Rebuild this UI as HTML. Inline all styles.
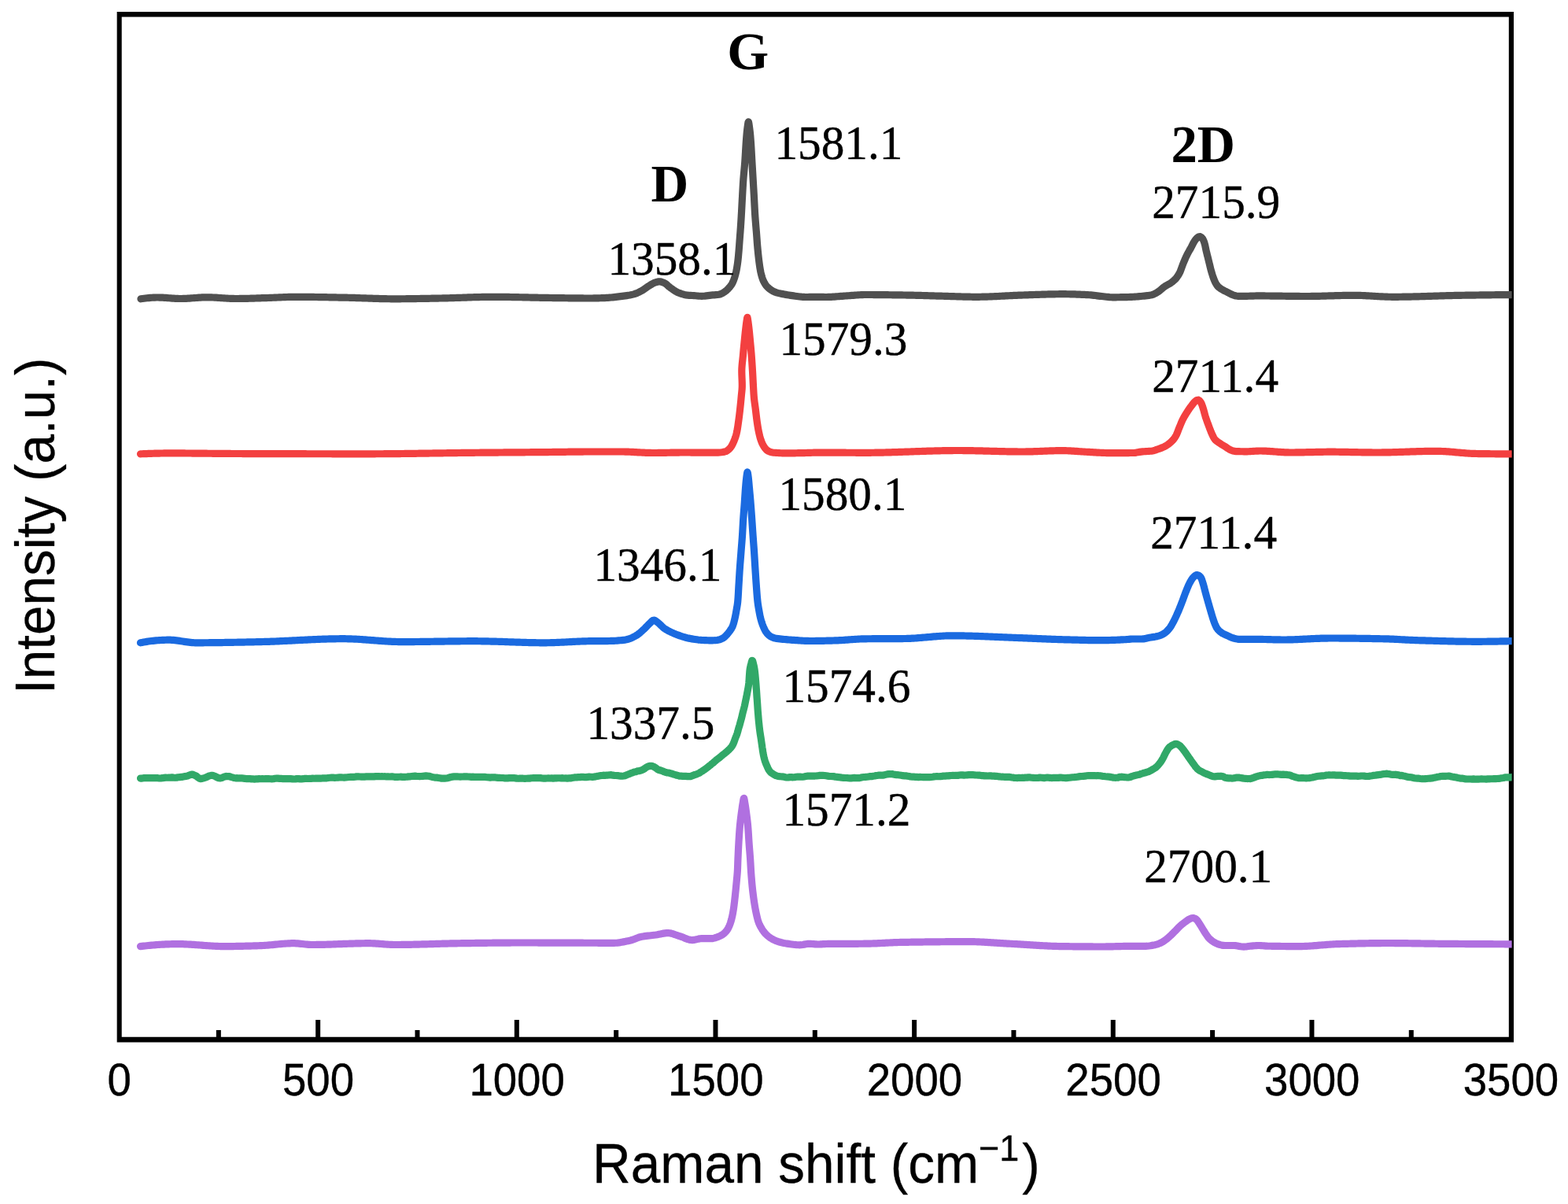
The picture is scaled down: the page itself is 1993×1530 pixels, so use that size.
<!DOCTYPE html>
<html lang="en"><head><meta charset="utf-8"><title>Raman spectra</title>
<style>html,body{margin:0;padding:0;background:#fff;}body{width:1993px;height:1530px;overflow:hidden;}svg{display:block;}.tk{font-family:"Liberation Sans",sans-serif;font-size:56px;text-anchor:middle;fill:#000;stroke:#000;stroke-width:0.4px;stroke-linejoin:round;}.ax{font-family:"Liberation Sans",sans-serif;font-size:67.5px;text-anchor:middle;fill:#000;stroke:#000;stroke-width:0.3px;stroke-linejoin:round;}.pk{font-family:"Liberation Serif",serif;font-size:59.3px;fill:#000;stroke:#000;stroke-width:0.4px;stroke-linejoin:round;}.al{text-anchor:start;}.bd{font-family:"Liberation Serif",serif;font-weight:bold;font-size:68px;fill:#000;}</style></head><body>
<svg xmlns="http://www.w3.org/2000/svg" width="1993" height="1530" viewBox="0 0 1993 1530">
<rect x="0" y="0" width="1993" height="1530" fill="#ffffff"/>
<path fill="#000" fill-rule="evenodd" d="M148.65 15.00H1924.00V1324.50H148.65Z M154.70 21.50H1917.80V1317.85H154.70Z"/>
<path d="M277.83 1321.00 V1308.90 M404.16 1321.00 V1296.10 M530.48 1321.00 V1308.90 M656.81 1321.00 V1296.10 M783.14 1321.00 V1308.90 M909.47 1321.00 V1296.10 M1035.79 1321.00 V1308.90 M1162.12 1321.00 V1296.10 M1288.45 1321.00 V1308.90 M1414.78 1321.00 V1296.10 M1541.10 1321.00 V1308.90 M1667.43 1321.00 V1296.10 M1793.76 1321.00 V1308.90" fill="none" stroke="#000" stroke-width="6.00"/>
<defs><clipPath id="plotclip"><rect x="152.0" y="19.0" width="1769.6" height="1301.5"/></clipPath></defs>
<g clip-path="url(#plotclip)" fill="none" stroke-width="9.20" stroke-linecap="round" stroke-linejoin="round">
<path stroke="#505050" d="M179.00 379.80L180.99 379.52L182.98 379.26L184.97 379.01L186.97 378.78L188.96 378.58L190.95 378.40L192.95 378.25L194.94 378.13L196.93 378.05L198.93 378.01L200.92 378.00L202.92 378.04L204.92 378.11L206.91 378.20L208.91 378.32L210.91 378.45L212.91 378.59L214.91 378.74L216.90 378.89L218.90 379.04L220.90 379.17L222.90 379.29L224.90 379.38L226.90 379.46L228.90 379.49L230.89 379.50L232.89 379.46L234.89 379.40L236.89 379.31L238.88 379.20L240.88 379.07L242.88 378.93L244.88 378.77L246.87 378.62L248.87 378.47L250.87 378.32L252.87 378.18L254.87 378.06L256.86 377.95L258.86 377.87L260.86 377.82L262.86 377.80L264.85 377.81L266.85 377.85L268.85 377.91L270.85 378.00L272.85 378.10L274.84 378.21L276.84 378.34L278.84 378.47L280.84 378.60L282.84 378.74L284.84 378.88L286.83 379.01L288.83 379.13L290.83 379.24L292.83 379.33L294.83 379.41L296.83 379.46L298.82 379.49L300.82 379.50L302.82 379.49L304.82 379.47L306.82 379.45L308.82 379.42L310.82 379.38L312.82 379.34L314.82 379.29L316.82 379.24L318.82 379.18L320.82 379.12L322.82 379.06L324.82 378.99L326.82 378.92L328.82 378.86L330.82 378.79L332.82 378.72L334.82 378.66L336.82 378.60L338.82 378.53L340.82 378.48L342.82 378.41L344.82 378.34L346.82 378.26L348.82 378.18L350.82 378.09L352.81 378.00L354.81 377.91L356.81 377.82L358.81 377.74L360.81 377.65L362.81 377.58L364.81 377.51L366.81 377.44L368.81 377.39L370.81 377.35L372.81 377.32L374.81 377.30L376.81 377.30L378.81 377.30L380.80 377.31L382.80 377.32L384.80 377.33L386.80 377.34L388.80 377.36L390.80 377.37L392.80 377.39L394.81 377.42L396.81 377.44L398.81 377.47L400.81 377.49L402.81 377.52L404.81 377.55L406.81 377.58L408.81 377.62L410.81 377.65L412.81 377.69L414.81 377.72L416.81 377.76L418.81 377.80L420.81 377.83L422.81 377.87L424.81 377.91L426.81 377.95L428.81 377.99L430.81 378.03L432.81 378.06L434.81 378.10L436.81 378.14L438.81 378.18L440.81 378.22L442.81 378.26L444.81 378.30L446.81 378.35L448.81 378.41L450.81 378.47L452.81 378.53L454.81 378.59L456.81 378.66L458.81 378.73L460.81 378.80L462.81 378.87L464.81 378.94L466.81 379.01L468.81 379.08L470.81 379.15L472.80 379.22L474.80 379.29L476.80 379.35L478.80 379.41L480.80 379.47L482.80 379.53L484.80 379.58L486.80 379.63L488.80 379.67L490.80 379.71L492.80 379.74L494.80 379.76L496.80 379.78L498.80 379.80L500.80 379.80L502.80 379.80L504.80 379.79L506.80 379.79L508.80 379.78L510.80 379.76L512.80 379.75L514.80 379.73L516.80 379.71L518.80 379.69L520.80 379.67L522.80 379.64L524.80 379.62L526.80 379.59L528.80 379.56L530.80 379.52L532.80 379.49L534.80 379.46L536.80 379.42L538.80 379.39L540.80 379.35L542.80 379.32L544.80 379.28L546.80 379.24L548.81 379.20L550.81 379.17L552.81 379.13L554.81 379.09L556.81 379.06L558.81 379.02L560.81 378.99L562.81 378.95L564.81 378.90L566.81 378.85L568.80 378.80L570.80 378.75L572.80 378.69L574.80 378.63L576.80 378.57L578.80 378.50L580.80 378.44L582.80 378.37L584.80 378.30L586.80 378.23L588.80 378.16L590.80 378.09L592.80 378.03L594.80 377.96L596.80 377.89L598.80 377.83L600.80 377.77L602.80 377.71L604.80 377.65L606.80 377.60L608.80 377.54L610.80 377.50L612.80 377.46L614.80 377.42L616.80 377.38L618.80 377.35L620.80 377.33L622.80 377.31L624.80 377.30L626.80 377.30L628.80 377.30L630.80 377.31L632.80 377.32L634.80 377.33L636.80 377.35L638.80 377.36L640.80 377.39L642.80 377.41L644.80 377.44L646.80 377.47L648.80 377.50L650.80 377.54L652.80 377.57L654.80 377.61L656.80 377.65L658.80 377.69L660.80 377.73L662.80 377.77L664.80 377.82L666.80 377.86L668.80 377.90L670.80 377.95L672.80 377.99L674.80 378.04L676.80 378.08L678.80 378.12L680.80 378.17L682.80 378.21L684.80 378.25L686.80 378.29L688.80 378.33L690.80 378.36L692.80 378.40L694.80 378.43L696.80 378.46L698.80 378.48L700.80 378.51L702.80 378.54L704.80 378.56L706.80 378.59L708.80 378.61L710.80 378.64L712.80 378.67L714.80 378.70L716.80 378.72L718.80 378.75L720.80 378.77L722.80 378.80L724.80 378.82L726.80 378.85L728.80 378.87L730.80 378.89L732.80 378.91L734.80 378.93L736.80 378.95L738.80 378.96L740.81 378.97L742.81 378.98L744.81 378.99L746.81 379.00L748.81 379.00L750.81 379.00L752.81 378.99L754.81 378.96L756.81 378.93L758.81 378.88L760.81 378.83L762.81 378.77L764.81 378.70L766.81 378.62L768.81 378.55L770.80 378.46L772.80 378.35L774.79 378.21L776.78 378.04L778.78 377.85L780.77 377.63L782.76 377.40L784.75 377.16L786.73 376.91L788.72 376.66L790.70 376.41L792.69 376.15L794.69 375.89L796.68 375.60L798.67 375.28L800.64 374.94L802.60 374.55L804.53 374.12L806.43 373.60L808.31 372.94L810.18 372.16L812.01 371.31L813.81 370.41L815.57 369.49L817.28 368.47L818.94 367.36L820.57 366.19L822.21 365.02L823.88 363.90L825.58 362.85L827.30 361.78L829.04 360.73L830.81 359.78L832.63 359.02L834.53 358.43L836.50 357.94L838.47 357.82L840.45 358.15L842.41 358.78L844.24 359.50L845.90 360.45L847.47 361.69L848.99 363.07L850.53 364.45L852.12 365.69L853.77 366.85L855.42 368.03L857.10 369.17L858.81 370.23L860.56 371.17L862.35 371.94L864.20 372.64L866.09 373.31L868.03 373.94L869.99 374.48L871.96 374.91L873.94 375.21L875.92 375.35L877.92 375.42L879.92 375.50L881.92 375.62L883.92 375.79L885.91 375.96L887.91 376.13L889.91 376.25L891.90 376.30L893.89 376.24L895.88 376.09L897.87 375.86L899.86 375.60L901.85 375.34L903.84 375.12L905.85 374.96L907.87 374.83L909.88 374.70L911.87 374.53L913.81 374.28L915.71 373.76L917.57 372.92L919.36 371.94L921.03 370.91L922.63 369.70L924.16 368.35L925.58 366.93L926.92 365.47L928.21 363.91L929.40 362.27L930.45 360.58L931.34 358.82L932.14 356.99L932.87 355.10L933.52 353.19L934.11 351.29L934.65 349.37L935.15 347.42L935.61 345.47L936.02 343.51L936.40 341.55L936.74 339.58L937.06 337.60L937.35 335.62L937.62 333.64L937.87 331.65L938.09 329.67L938.30 327.68L938.50 325.69L938.68 323.69L938.86 321.70L939.03 319.71L939.20 317.71L939.35 315.72L939.50 313.73L939.65 311.73L939.79 309.74L939.93 307.74L940.08 305.74L940.23 303.75L940.38 301.75L940.53 299.76L940.68 297.77L940.84 295.77L940.99 293.78L941.13 291.78L941.28 289.79L941.41 287.79L941.55 285.79L941.68 283.80L941.80 281.80L941.93 279.81L942.05 277.81L942.17 275.81L942.28 273.82L942.40 271.82L942.51 269.82L942.62 267.82L942.72 265.83L942.83 263.83L942.93 261.83L943.03 259.83L943.13 257.83L943.24 255.84L943.34 253.84L943.45 251.84L943.56 249.84L943.67 247.85L943.77 245.85L943.88 243.85L943.99 241.85L944.10 239.86L944.21 237.86L944.33 235.86L944.45 233.87L944.57 231.87L944.71 229.87L944.85 227.88L945.01 225.89L945.18 223.89L945.36 221.90L945.54 219.91L945.73 217.92L945.91 215.92L946.10 213.93L946.27 211.94L946.44 209.95L946.60 207.95L946.74 205.96L946.88 203.96L947.01 201.96L947.13 199.97L947.25 197.97L947.37 195.97L947.49 193.98L947.60 191.98L947.72 189.98L947.84 187.98L947.96 185.99L948.08 183.99L948.21 181.99L948.34 180.00L948.49 178.00L948.64 176.01L948.80 174.02L948.97 172.02L949.15 170.03L949.34 168.04L949.55 166.05L949.77 164.06L950.02 162.07L950.29 160.09L950.62 157.70L951.01 155.39L951.40 154.79L951.79 156.46L952.16 159.01L952.46 161.11L952.73 163.09L952.98 165.07L953.22 167.06L953.44 169.05L953.63 171.04L953.82 173.04L953.98 175.03L954.14 177.02L954.29 179.01L954.43 181.01L954.57 183.00L954.70 185.00L954.82 187.00L954.94 188.99L955.05 190.99L955.16 192.99L955.27 194.99L955.38 196.99L955.49 198.98L955.60 200.98L955.71 202.98L955.83 204.98L955.94 206.97L956.06 208.97L956.18 210.97L956.30 212.96L956.42 214.96L956.54 216.96L956.66 218.96L956.77 220.95L956.89 222.95L957.01 224.95L957.12 226.94L957.24 228.94L957.35 230.94L957.47 232.93L957.59 234.93L957.70 236.93L957.82 238.93L957.94 240.92L958.05 242.92L958.16 244.92L958.28 246.91L958.39 248.91L958.50 250.91L958.61 252.91L958.71 254.90L958.81 256.90L958.91 258.90L959.01 260.90L959.11 262.90L959.21 264.89L959.32 266.89L959.43 268.89L959.54 270.88L959.67 272.88L959.80 274.88L959.95 276.87L960.10 278.87L960.25 280.86L960.41 282.86L960.57 284.85L960.73 286.84L960.90 288.84L961.06 290.83L961.23 292.82L961.40 294.82L961.56 296.81L961.71 298.81L961.85 300.80L961.99 302.80L962.14 304.79L962.28 306.79L962.43 308.78L962.59 310.78L962.76 312.77L962.93 314.76L963.11 316.75L963.30 318.75L963.50 320.74L963.70 322.73L963.91 324.72L964.13 326.70L964.36 328.69L964.59 330.68L964.83 332.67L965.09 334.65L965.36 336.64L965.64 338.62L965.95 340.59L966.29 342.56L966.66 344.53L967.07 346.50L967.53 348.46L968.03 350.41L968.59 352.32L969.20 354.20L969.93 356.07L970.77 357.92L971.72 359.71L972.76 361.40L973.91 362.98L975.25 364.49L976.73 365.90L978.28 367.18L979.88 368.33L981.58 369.41L983.37 370.39L985.20 371.21L987.06 371.84L988.97 372.36L990.92 372.82L992.90 373.23L994.89 373.61L996.86 373.99L998.82 374.36L1000.79 374.72L1002.76 375.05L1004.74 375.37L1006.72 375.66L1008.70 375.93L1010.68 376.19L1012.67 376.46L1014.66 376.72L1016.65 376.97L1018.64 377.19L1020.64 377.35L1022.63 377.46L1024.62 377.50L1026.62 377.49L1028.62 377.47L1030.62 377.43L1032.62 377.39L1034.62 377.36L1036.63 377.32L1038.63 377.30L1040.63 377.30L1042.63 377.33L1044.63 377.39L1046.63 377.45L1048.63 377.49L1050.63 377.50L1052.62 377.47L1054.62 377.41L1056.62 377.32L1058.62 377.21L1060.61 377.07L1062.61 376.93L1064.61 376.78L1066.60 376.62L1068.60 376.46L1070.59 376.30L1072.59 376.16L1074.59 376.03L1076.58 375.90L1078.58 375.76L1080.58 375.61L1082.57 375.45L1084.57 375.29L1086.56 375.13L1088.56 374.98L1090.56 374.85L1092.55 374.73L1094.55 374.63L1096.55 374.55L1098.55 374.51L1100.54 374.50L1102.54 374.50L1104.54 374.51L1106.54 374.51L1108.54 374.52L1110.54 374.53L1112.54 374.54L1114.54 374.56L1116.54 374.58L1118.54 374.59L1120.54 374.61L1122.54 374.63L1124.54 374.65L1126.54 374.68L1128.54 374.70L1130.55 374.73L1132.55 374.75L1134.55 374.78L1136.55 374.81L1138.55 374.84L1140.55 374.86L1142.55 374.89L1144.55 374.92L1146.55 374.95L1148.55 374.98L1150.55 375.01L1152.55 375.04L1154.55 375.08L1156.55 375.11L1158.55 375.16L1160.55 375.20L1162.55 375.25L1164.55 375.30L1166.55 375.35L1168.55 375.40L1170.55 375.46L1172.55 375.51L1174.55 375.57L1176.55 375.63L1178.55 375.69L1180.55 375.75L1182.55 375.81L1184.55 375.87L1186.55 375.93L1188.55 375.98L1190.55 376.04L1192.55 376.10L1194.54 376.16L1196.54 376.21L1198.54 376.26L1200.54 376.31L1202.54 376.37L1204.54 376.42L1206.54 376.48L1208.54 376.55L1210.54 376.61L1212.54 376.68L1214.54 376.74L1216.54 376.80L1218.54 376.87L1220.54 376.93L1222.54 376.99L1224.54 377.05L1226.54 377.10L1228.54 377.15L1230.54 377.19L1232.54 377.22L1234.54 377.25L1236.54 377.28L1238.54 377.29L1240.54 377.30L1242.54 377.30L1244.54 377.28L1246.54 377.26L1248.54 377.22L1250.53 377.18L1252.53 377.13L1254.53 377.07L1256.53 377.00L1258.53 376.92L1260.53 376.84L1262.53 376.76L1264.53 376.67L1266.52 376.57L1268.52 376.48L1270.52 376.38L1272.52 376.27L1274.52 376.17L1276.52 376.06L1278.52 375.96L1280.52 375.85L1282.51 375.75L1284.51 375.65L1286.51 375.55L1288.51 375.46L1290.51 375.36L1292.51 375.28L1294.51 375.19L1296.51 375.12L1298.51 375.05L1300.50 374.98L1302.50 374.92L1304.50 374.86L1306.50 374.79L1308.50 374.72L1310.50 374.65L1312.50 374.59L1314.50 374.52L1316.50 374.45L1318.50 374.38L1320.50 374.31L1322.50 374.25L1324.50 374.19L1326.50 374.12L1328.50 374.07L1330.50 374.01L1332.50 373.96L1334.50 373.91L1336.50 373.87L1338.50 373.83L1340.50 373.79L1342.50 373.76L1344.50 373.74L1346.50 373.72L1348.50 373.71L1350.50 373.70L1352.50 373.70L1354.50 373.72L1356.50 373.74L1358.50 373.77L1360.50 373.81L1362.50 373.85L1364.50 373.91L1366.50 373.97L1368.51 374.04L1370.51 374.11L1372.51 374.19L1374.51 374.28L1376.50 374.37L1378.50 374.46L1380.50 374.56L1382.49 374.67L1384.49 374.77L1386.48 374.90L1388.47 375.08L1390.46 375.31L1392.44 375.56L1394.43 375.82L1396.41 376.09L1398.40 376.33L1400.39 376.54L1402.38 376.75L1404.37 376.98L1406.36 377.21L1408.36 377.42L1410.35 377.60L1412.34 377.73L1414.34 377.80L1416.34 377.80L1418.34 377.79L1420.33 377.77L1422.34 377.75L1424.34 377.72L1426.34 377.69L1428.34 377.65L1430.34 377.61L1432.34 377.56L1434.34 377.52L1436.34 377.46L1438.34 377.38L1440.33 377.28L1442.33 377.15L1444.33 377.01L1446.33 376.85L1448.32 376.68L1450.31 376.49L1452.31 376.29L1454.30 376.09L1456.28 375.88L1458.28 375.66L1460.29 375.40L1462.27 375.08L1464.19 374.68L1466.05 374.07L1467.88 373.21L1469.66 372.21L1471.39 371.15L1473.04 370.07L1474.62 368.85L1476.14 367.53L1477.66 366.20L1479.22 364.94L1480.86 363.80L1482.58 362.79L1484.35 361.82L1486.10 360.84L1487.79 359.79L1489.40 358.62L1490.99 357.36L1492.52 356.03L1493.94 354.63L1495.22 353.15L1496.43 351.56L1497.56 349.87L1498.59 348.13L1499.51 346.37L1500.32 344.57L1501.04 342.71L1501.72 340.81L1502.38 338.91L1503.08 337.02L1503.82 335.16L1504.57 333.31L1505.34 331.46L1506.12 329.61L1506.92 327.78L1507.74 325.96L1508.61 324.16L1509.52 322.39L1510.48 320.63L1511.45 318.88L1512.44 317.13L1513.41 315.39L1514.37 313.62L1515.27 311.83L1516.18 310.02L1517.12 308.25L1518.13 306.54L1519.27 304.92L1520.56 303.35L1522.02 302.01L1523.75 300.77L1525.53 300.69L1527.31 301.91L1528.56 303.34L1529.54 305.11L1530.33 307.05L1530.96 308.94L1531.47 310.85L1531.91 312.81L1532.31 314.78L1532.71 316.76L1533.15 318.72L1533.62 320.66L1534.10 322.60L1534.58 324.54L1535.07 326.48L1535.56 328.42L1536.04 330.37L1536.52 332.31L1536.99 334.25L1537.46 336.20L1537.93 338.15L1538.41 340.09L1538.90 342.02L1539.43 343.95L1539.98 345.88L1540.54 347.81L1541.13 349.73L1541.75 351.64L1542.42 353.52L1543.14 355.37L1543.94 357.21L1544.81 359.08L1545.78 360.88L1546.85 362.55L1548.06 364.01L1549.52 365.32L1551.17 366.52L1552.91 367.63L1554.62 368.66L1556.39 369.59L1558.20 370.45L1560.02 371.31L1561.80 372.24L1563.56 373.22L1565.35 374.12L1567.19 374.83L1569.10 375.48L1571.06 376.03L1573.03 376.30L1575.01 376.30L1577.00 376.30L1579.01 376.30L1581.02 376.30L1583.02 376.30L1585.03 376.30L1587.03 376.27L1589.03 376.22L1591.03 376.15L1593.03 376.07L1595.03 376.00L1597.03 375.94L1599.03 375.90L1601.03 375.90L1603.03 375.91L1605.03 375.93L1607.03 375.95L1609.03 375.98L1611.03 376.00L1613.03 376.02L1615.03 376.04L1617.03 376.06L1619.03 376.09L1621.03 376.11L1623.03 376.14L1625.03 376.16L1627.03 376.19L1629.03 376.22L1631.03 376.24L1633.03 376.27L1635.03 376.30L1637.03 376.32L1639.03 376.35L1641.03 376.37L1643.03 376.39L1645.03 376.41L1647.03 376.43L1649.03 376.45L1651.03 376.46L1653.03 376.48L1655.03 376.49L1657.03 376.49L1659.03 376.50L1661.03 376.50L1663.03 376.50L1665.03 376.48L1667.03 376.47L1669.03 376.44L1671.03 376.41L1673.03 376.37L1675.03 376.33L1677.03 376.29L1679.03 376.24L1681.03 376.19L1683.03 376.13L1685.04 376.08L1687.04 376.02L1689.04 375.96L1691.04 375.90L1693.04 375.84L1695.04 375.78L1697.04 375.72L1699.04 375.66L1701.04 375.61L1703.04 375.56L1705.04 375.51L1707.03 375.46L1709.03 375.42L1711.03 375.39L1713.03 375.36L1715.03 375.33L1717.03 375.32L1719.03 375.30L1721.03 375.30L1723.03 375.31L1725.03 375.34L1727.03 375.38L1729.03 375.44L1731.03 375.51L1733.03 375.60L1735.02 375.69L1737.02 375.79L1739.02 375.90L1741.02 376.01L1743.02 376.13L1745.02 376.25L1747.02 376.37L1749.01 376.49L1751.01 376.61L1753.01 376.72L1755.01 376.83L1757.01 376.93L1759.01 377.02L1761.01 377.10L1763.00 377.17L1765.00 377.23L1767.00 377.27L1769.00 377.29L1771.00 377.30L1773.00 377.30L1775.00 377.29L1777.00 377.28L1779.00 377.26L1781.00 377.24L1783.00 377.21L1785.00 377.18L1787.00 377.15L1788.99 377.11L1790.99 377.07L1792.99 377.03L1794.99 376.99L1796.99 376.94L1798.99 376.89L1800.99 376.84L1802.99 376.78L1804.99 376.73L1806.99 376.67L1808.99 376.61L1810.99 376.55L1812.99 376.49L1814.99 376.43L1816.99 376.37L1818.99 376.30L1820.99 376.24L1822.99 376.18L1824.99 376.12L1826.99 376.05L1828.99 375.99L1830.99 375.93L1832.99 375.87L1834.99 375.81L1836.99 375.75L1838.99 375.70L1840.99 375.64L1842.99 375.59L1844.99 375.54L1846.99 375.49L1848.99 375.45L1850.99 375.41L1852.99 375.37L1854.99 375.33L1856.99 375.30L1858.99 375.27L1860.99 375.24L1862.99 375.21L1864.99 375.18L1866.99 375.15L1868.99 375.12L1870.99 375.09L1872.99 375.06L1874.99 375.04L1876.99 375.01L1878.99 374.98L1880.99 374.95L1882.99 374.93L1884.99 374.90L1886.99 374.88L1888.99 374.85L1890.99 374.83L1892.99 374.80L1895.00 374.78L1897.00 374.76L1899.00 374.73L1901.00 374.71L1903.00 374.69L1905.00 374.67L1907.00 374.65L1909.00 374.63L1911.00 374.61L1913.00 374.59L1915.00 374.58L1917.00 374.56L1919.00 374.54L1921.00 374.53L1923.00 374.51L1925.00 374.50"/>
<path stroke="#f34040" d="M178.50 576.80L180.50 576.73L182.50 576.66L184.50 576.60L186.50 576.53L188.50 576.46L190.50 576.40L192.50 576.33L194.50 576.27L196.50 576.21L198.50 576.16L200.50 576.11L202.50 576.06L204.50 576.02L206.50 575.98L208.50 575.95L210.50 575.93L212.50 575.91L214.50 575.90L216.50 575.90L218.50 575.90L220.50 575.90L222.50 575.91L224.50 575.91L226.50 575.92L228.51 575.93L230.51 575.94L232.51 575.95L234.51 575.96L236.51 575.98L238.51 575.99L240.51 576.01L242.51 576.02L244.51 576.04L246.51 576.06L248.51 576.08L250.51 576.09L252.51 576.11L254.51 576.13L256.51 576.15L258.51 576.17L260.52 576.19L262.52 576.21L264.52 576.23L266.52 576.25L268.52 576.27L270.52 576.29L272.52 576.31L274.52 576.33L276.52 576.35L278.52 576.37L280.52 576.38L282.52 576.40L284.52 576.41L286.53 576.43L288.53 576.44L290.53 576.46L292.53 576.47L294.53 576.48L296.53 576.49L298.53 576.50L300.53 576.50L302.53 576.51L304.53 576.51L306.53 576.52L308.53 576.53L310.53 576.53L312.53 576.54L314.54 576.54L316.54 576.55L318.54 576.56L320.54 576.56L322.54 576.57L324.54 576.57L326.54 576.58L328.54 576.58L330.54 576.59L332.54 576.59L334.54 576.60L336.54 576.61L338.54 576.61L340.54 576.62L342.55 576.62L344.55 576.63L346.55 576.63L348.55 576.64L350.55 576.64L352.55 576.65L354.55 576.65L356.55 576.66L358.55 576.66L360.55 576.67L362.55 576.67L364.55 576.68L366.55 576.68L368.55 576.68L370.56 576.69L372.56 576.69L374.56 576.70L376.56 576.70L378.56 576.71L380.56 576.71L382.56 576.71L384.56 576.72L386.56 576.72L388.56 576.72L390.56 576.73L392.56 576.73L394.56 576.74L396.56 576.74L398.57 576.74L400.57 576.75L402.57 576.75L404.57 576.75L406.57 576.75L408.57 576.76L410.57 576.76L412.57 576.76L414.57 576.77L416.57 576.77L418.57 576.77L420.57 576.77L422.57 576.78L424.57 576.78L426.58 576.78L428.58 576.78L430.58 576.78L432.58 576.78L434.58 576.79L436.58 576.79L438.58 576.79L440.58 576.79L442.58 576.79L444.58 576.79L446.58 576.79L448.58 576.80L450.58 576.80L452.58 576.80L454.59 576.80L456.59 576.80L458.59 576.80L460.59 576.80L462.59 576.80L464.59 576.80L466.59 576.80L468.59 576.80L470.59 576.80L472.59 576.79L474.59 576.79L476.59 576.78L478.59 576.77L480.59 576.76L482.59 576.75L484.59 576.74L486.60 576.73L488.60 576.72L490.60 576.70L492.60 576.69L494.60 576.67L496.60 576.66L498.60 576.64L500.60 576.62L502.60 576.60L504.60 576.58L506.60 576.56L508.60 576.53L510.60 576.51L512.60 576.49L514.60 576.46L516.60 576.44L518.60 576.41L520.61 576.39L522.61 576.36L524.61 576.34L526.61 576.31L528.61 576.28L530.61 576.25L532.61 576.22L534.61 576.20L536.61 576.17L538.61 576.14L540.61 576.11L542.61 576.08L544.61 576.05L546.61 576.02L548.61 575.99L550.61 575.96L552.61 575.93L554.61 575.90L556.62 575.87L558.62 575.84L560.62 575.81L562.62 575.78L564.62 575.76L566.62 575.73L568.62 575.70L570.62 575.67L572.62 575.64L574.62 575.62L576.62 575.59L578.62 575.56L580.62 575.54L582.62 575.51L584.62 575.49L586.62 575.46L588.62 575.44L590.63 575.41L592.63 575.39L594.63 575.37L596.63 575.35L598.63 575.33L600.63 575.31L602.63 575.29L604.63 575.27L606.63 575.25L608.63 575.24L610.63 575.22L612.63 575.20L614.63 575.18L616.63 575.17L618.63 575.15L620.63 575.13L622.64 575.12L624.64 575.10L626.64 575.08L628.64 575.07L630.64 575.05L632.64 575.04L634.64 575.02L636.64 575.01L638.64 574.99L640.64 574.97L642.64 574.96L644.64 574.94L646.64 574.93L648.64 574.91L650.64 574.90L652.65 574.88L654.65 574.87L656.65 574.85L658.65 574.84L660.65 574.82L662.65 574.81L664.65 574.79L666.65 574.78L668.65 574.76L670.65 574.75L672.65 574.73L674.65 574.71L676.65 574.70L678.65 574.68L680.65 574.67L682.65 574.65L684.66 574.63L686.66 574.62L688.66 574.60L690.66 574.58L692.66 574.57L694.66 574.55L696.66 574.53L698.66 574.51L700.66 574.49L702.66 574.47L704.66 574.45L706.66 574.43L708.66 574.41L710.66 574.38L712.66 574.36L714.66 574.33L716.67 574.30L718.67 574.28L720.67 574.25L722.67 574.22L724.67 574.20L726.67 574.17L728.67 574.15L730.67 574.12L732.67 574.10L734.67 574.08L736.67 574.06L738.67 574.05L740.67 574.03L742.67 574.02L744.67 574.01L746.67 574.00L748.68 574.00L750.68 574.00L752.68 574.00L754.68 574.00L756.68 574.00L758.68 574.00L760.68 574.00L762.68 574.00L764.68 574.00L766.68 574.00L768.68 574.00L770.68 574.00L772.69 574.00L774.69 574.00L776.69 574.00L778.69 574.00L780.69 574.00L782.69 574.00L784.69 574.00L786.69 574.00L788.69 574.00L790.69 574.00L792.69 574.02L794.69 574.06L796.69 574.11L798.69 574.18L800.69 574.26L802.69 574.36L804.69 574.46L806.68 574.57L808.68 574.68L810.68 574.79L812.68 574.90L814.68 575.01L816.68 575.11L818.68 575.21L820.68 575.29L822.68 575.37L824.68 575.43L826.68 575.47L828.68 575.50L830.68 575.50L832.68 575.49L834.68 575.48L836.68 575.46L838.68 575.44L840.68 575.41L842.68 575.38L844.68 575.35L846.68 575.31L848.68 575.27L850.68 575.24L852.68 575.20L854.68 575.16L856.68 575.13L858.68 575.10L860.68 575.07L862.68 575.04L864.69 575.02L866.69 575.01L868.69 575.00L870.69 575.00L872.69 575.00L874.69 575.01L876.69 575.02L878.69 575.03L880.69 575.04L882.69 575.05L884.69 575.06L886.69 575.07L888.69 575.08L890.69 575.09L892.69 575.10L894.70 575.10L896.70 575.10L898.70 575.10L900.70 575.10L902.71 575.10L904.71 575.10L906.71 575.10L908.71 575.10L910.71 575.10L912.70 575.09L914.74 574.99L916.79 574.78L918.81 574.49L920.73 574.12L922.53 573.64L924.29 572.69L925.96 571.39L927.46 569.93L928.71 568.48L929.81 566.87L930.81 565.10L931.72 563.25L932.55 561.38L933.31 559.54L934.04 557.67L934.72 555.78L935.33 553.86L935.88 551.93L936.33 550.00L936.74 548.05L937.10 546.08L937.44 544.11L937.75 542.13L938.04 540.14L938.32 538.15L938.60 536.17L938.88 534.19L939.15 532.21L939.40 530.22L939.65 528.24L939.89 526.25L940.13 524.26L940.36 522.28L940.58 520.29L940.80 518.30L941.01 516.31L941.22 514.32L941.42 512.33L941.62 510.34L941.81 508.35L942.00 506.35L942.18 504.36L942.36 502.37L942.57 500.38L942.77 498.38L942.97 496.39L943.13 494.39L943.25 492.40L943.30 490.40L943.29 488.40L943.25 486.40L943.19 484.40L943.11 482.40L943.03 480.40L942.95 478.40L942.88 476.40L942.83 474.40L942.80 472.40L942.81 470.40L942.88 468.41L942.99 466.41L943.14 464.42L943.32 462.42L943.51 460.43L943.73 458.44L943.94 456.44L944.15 454.45L944.36 452.46L944.54 450.46L944.72 448.47L944.90 446.48L945.08 444.49L945.27 442.50L945.46 440.50L945.65 438.51L945.85 436.52L946.05 434.53L946.25 432.54L946.45 430.55L946.65 428.56L946.85 426.57L947.05 424.58L947.26 422.59L947.48 420.60L947.70 418.61L947.93 416.62L948.16 414.64L948.41 412.65L948.67 410.66L948.94 408.68L949.25 406.69L949.61 404.19L949.98 403.29L950.36 405.27L950.69 407.57L950.98 409.54L951.25 411.53L951.50 413.51L951.74 415.50L951.97 417.49L952.18 419.47L952.39 421.46L952.59 423.46L952.78 425.45L952.97 427.44L953.16 429.43L953.35 431.42L953.53 433.42L953.72 435.41L953.91 437.40L954.10 439.39L954.29 441.38L954.47 443.38L954.64 445.37L954.81 447.36L954.98 449.36L955.13 451.35L955.28 453.35L955.43 455.34L955.57 457.34L955.71 459.33L955.85 461.33L955.98 463.33L956.10 465.32L956.23 467.32L956.35 469.32L956.47 471.31L956.59 473.31L956.70 475.31L956.80 477.31L956.91 479.30L957.01 481.30L957.11 483.30L957.21 485.30L957.31 487.30L957.41 489.30L957.52 491.29L957.63 493.29L957.74 495.29L957.85 497.29L957.97 499.29L958.09 501.28L958.24 503.28L958.40 505.27L958.60 507.26L958.84 509.24L959.09 511.23L959.36 513.21L959.64 515.19L959.92 517.18L960.18 519.16L960.43 521.15L960.67 523.13L960.90 525.12L961.14 527.11L961.38 529.10L961.62 531.08L961.87 533.07L962.14 535.05L962.42 537.03L962.71 539.01L963.01 540.99L963.34 542.97L963.68 544.94L964.04 546.90L964.44 548.86L964.86 550.82L965.31 552.78L965.80 554.74L966.34 556.67L966.92 558.58L967.55 560.45L968.28 562.32L969.11 564.18L970.05 565.98L971.08 567.68L972.22 569.28L973.56 570.88L975.05 572.29L976.66 573.28L978.48 574.05L980.45 574.68L982.45 575.06L984.40 575.24L986.38 575.39L988.37 575.52L990.37 575.64L992.38 575.73L994.40 575.80L996.41 575.86L998.42 575.89L1000.43 575.90L1002.43 575.90L1004.43 575.88L1006.43 575.86L1008.43 575.83L1010.43 575.80L1012.43 575.76L1014.43 575.72L1016.43 575.68L1018.43 575.63L1020.43 575.59L1022.43 575.54L1024.43 575.50L1026.43 575.45L1028.43 575.39L1030.43 575.32L1032.43 575.25L1034.43 575.19L1036.43 575.14L1038.43 575.11L1040.43 575.10L1042.43 575.10L1044.43 575.10L1046.43 575.11L1048.43 575.11L1050.44 575.12L1052.44 575.12L1054.44 575.13L1056.44 575.14L1058.44 575.15L1060.44 575.15L1062.44 575.16L1064.44 575.17L1066.44 575.18L1068.44 575.19L1070.44 575.20L1072.44 575.21L1074.44 575.22L1076.45 575.23L1078.45 575.24L1080.45 575.25L1082.45 575.26L1084.45 575.27L1086.45 575.27L1088.45 575.28L1090.45 575.29L1092.45 575.29L1094.45 575.30L1096.45 575.30L1098.45 575.30L1100.45 575.30L1102.45 575.30L1104.45 575.29L1106.45 575.28L1108.46 575.26L1110.46 575.24L1112.46 575.21L1114.46 575.18L1116.46 575.15L1118.46 575.11L1120.46 575.08L1122.46 575.03L1124.46 574.99L1126.46 574.94L1128.46 574.89L1130.46 574.83L1132.46 574.78L1134.46 574.72L1136.46 574.66L1138.46 574.60L1140.46 574.53L1142.46 574.47L1144.46 574.40L1146.46 574.33L1148.46 574.27L1150.46 574.20L1152.46 574.13L1154.46 574.05L1156.46 573.98L1158.46 573.91L1160.46 573.84L1162.46 573.77L1164.46 573.70L1166.46 573.63L1168.46 573.56L1170.46 573.49L1172.46 573.42L1174.46 573.35L1176.46 573.29L1178.46 573.22L1180.46 573.16L1182.46 573.10L1184.46 573.04L1186.46 572.99L1188.46 572.93L1190.46 572.88L1192.46 572.83L1194.46 572.78L1196.46 572.74L1198.46 572.70L1200.46 572.66L1202.46 572.63L1204.46 572.60L1206.46 572.57L1208.46 572.55L1210.46 572.53L1212.46 572.52L1214.46 572.51L1216.46 572.50L1218.46 572.50L1220.46 572.51L1222.46 572.52L1224.46 572.53L1226.46 572.55L1228.46 572.57L1230.46 572.60L1232.46 572.63L1234.47 572.66L1236.47 572.70L1238.47 572.74L1240.47 572.78L1242.47 572.83L1244.47 572.87L1246.47 572.92L1248.47 572.97L1250.47 573.03L1252.47 573.08L1254.47 573.13L1256.47 573.19L1258.47 573.24L1260.47 573.30L1262.47 573.35L1264.47 573.40L1266.47 573.46L1268.47 573.51L1270.47 573.56L1272.47 573.61L1274.47 573.66L1276.47 573.70L1278.47 573.75L1280.48 573.79L1282.48 573.83L1284.48 573.86L1286.48 573.89L1288.48 573.92L1290.48 573.94L1292.48 573.96L1294.48 573.98L1296.48 573.99L1298.48 574.00L1300.48 574.00L1302.48 573.99L1304.48 573.97L1306.48 573.94L1308.48 573.89L1310.48 573.84L1312.48 573.78L1314.48 573.72L1316.48 573.64L1318.48 573.57L1320.48 573.49L1322.48 573.41L1324.48 573.32L1326.48 573.24L1328.48 573.15L1330.48 573.07L1332.48 573.00L1334.48 572.92L1336.48 572.85L1338.48 572.79L1340.48 572.73L1342.48 572.69L1344.48 572.65L1346.48 572.62L1348.48 572.60L1350.48 572.60L1352.47 572.62L1354.47 572.67L1356.47 572.74L1358.47 572.83L1360.47 572.93L1362.46 573.05L1364.46 573.18L1366.46 573.31L1368.46 573.45L1370.45 573.60L1372.45 573.74L1374.45 573.87L1376.45 574.00L1378.45 574.12L1380.44 574.22L1382.44 574.33L1384.44 574.44L1386.44 574.56L1388.44 574.69L1390.43 574.81L1392.43 574.93L1394.43 575.05L1396.43 575.17L1398.43 575.27L1400.43 575.37L1402.42 575.45L1404.42 575.51L1406.42 575.56L1408.42 575.59L1410.42 575.60L1412.42 575.60L1414.42 575.60L1416.43 575.60L1418.43 575.59L1420.44 575.59L1422.44 575.59L1424.44 575.58L1426.45 575.57L1428.45 575.57L1430.45 575.56L1432.45 575.55L1434.45 575.54L1436.44 575.52L1438.44 575.51L1440.43 575.49L1442.42 575.35L1444.40 575.09L1446.38 574.75L1448.36 574.40L1450.34 574.09L1452.33 573.87L1454.33 573.73L1456.34 573.62L1458.35 573.52L1460.35 573.41L1462.34 573.27L1464.30 573.08L1466.24 572.69L1468.17 572.11L1470.07 571.43L1471.97 570.75L1473.86 570.09L1475.75 569.39L1477.62 568.65L1479.44 567.83L1481.19 566.92L1482.93 565.89L1484.62 564.77L1486.25 563.56L1487.77 562.29L1489.19 560.94L1490.57 559.48L1491.88 557.92L1493.10 556.29L1494.19 554.61L1495.13 552.90L1495.94 551.10L1496.68 549.23L1497.39 547.33L1498.10 545.44L1498.86 543.58L1499.62 541.73L1500.38 539.87L1501.14 538.01L1501.93 536.17L1502.75 534.35L1503.62 532.56L1504.55 530.80L1505.53 529.05L1506.55 527.32L1507.60 525.61L1508.67 523.92L1509.75 522.24L1510.86 520.58L1512.01 518.93L1513.18 517.31L1514.38 515.71L1515.60 514.10L1516.83 512.45L1518.13 510.91L1519.58 509.64L1521.38 508.49L1523.14 508.17L1524.79 509.34L1526.15 511.08L1527.08 512.72L1527.83 514.59L1528.48 516.55L1529.10 518.49L1529.69 520.40L1530.24 522.32L1530.75 524.26L1531.26 526.20L1531.80 528.13L1532.38 530.04L1533.00 531.94L1533.65 533.83L1534.33 535.71L1535.02 537.59L1535.72 539.47L1536.43 541.34L1537.12 543.22L1537.82 545.10L1538.54 546.97L1539.28 548.83L1540.07 550.67L1540.90 552.49L1541.77 554.35L1542.70 556.17L1543.75 557.85L1544.96 559.30L1546.45 560.58L1548.12 561.75L1549.85 562.87L1551.52 563.98L1553.21 565.06L1554.92 566.10L1556.63 567.14L1558.32 568.23L1559.98 569.39L1561.66 570.49L1563.40 571.42L1565.24 572.20L1567.15 572.92L1569.10 573.41L1571.06 573.54L1573.03 573.62L1575.02 573.68L1577.03 573.73L1579.05 573.76L1581.07 573.78L1583.08 573.80L1585.08 573.80L1587.08 573.75L1589.08 573.65L1591.08 573.52L1593.08 573.37L1595.07 573.23L1597.07 573.11L1599.07 573.03L1601.07 573.00L1603.07 573.02L1605.06 573.06L1607.06 573.13L1609.06 573.21L1611.06 573.32L1613.06 573.44L1615.05 573.57L1617.05 573.71L1619.05 573.86L1621.05 574.01L1623.05 574.16L1625.04 574.30L1627.04 574.44L1629.04 574.57L1631.04 574.69L1633.04 574.79L1635.04 574.88L1637.03 574.95L1639.03 574.99L1641.03 575.00L1643.03 575.00L1645.03 574.99L1647.03 574.97L1649.03 574.94L1651.03 574.92L1653.03 574.88L1655.03 574.85L1657.03 574.81L1659.03 574.76L1661.03 574.72L1663.03 574.67L1665.03 574.62L1667.03 574.58L1669.04 574.53L1671.04 574.48L1673.04 574.44L1675.04 574.39L1677.04 574.35L1679.04 574.32L1681.04 574.28L1683.04 574.25L1685.04 574.23L1687.04 574.21L1689.04 574.20L1691.04 574.20L1693.04 574.20L1695.04 574.21L1697.04 574.22L1699.05 574.24L1701.05 574.26L1703.05 574.29L1705.05 574.31L1707.05 574.35L1709.05 574.38L1711.05 574.41L1713.05 574.45L1715.05 574.49L1717.05 574.53L1719.05 574.57L1721.05 574.61L1723.05 574.65L1725.05 574.69L1727.05 574.73L1729.05 574.77L1731.05 574.81L1733.06 574.84L1735.06 574.87L1737.06 574.90L1739.06 574.93L1741.06 574.95L1743.06 574.97L1745.06 574.98L1747.06 574.99L1749.06 575.00L1751.06 575.00L1753.06 574.99L1755.06 574.98L1757.06 574.96L1759.06 574.93L1761.06 574.90L1763.06 574.86L1765.06 574.82L1767.06 574.78L1769.07 574.73L1771.07 574.68L1773.07 574.62L1775.07 574.56L1777.07 574.50L1779.07 574.44L1781.07 574.37L1783.07 574.31L1785.07 574.24L1787.07 574.17L1789.07 574.11L1791.07 574.04L1793.07 573.97L1795.07 573.91L1797.07 573.84L1799.07 573.78L1801.07 573.72L1803.07 573.66L1805.07 573.61L1807.07 573.55L1809.07 573.51L1811.07 573.46L1813.07 573.42L1815.07 573.39L1817.07 573.36L1819.07 573.33L1821.07 573.32L1823.07 573.31L1825.07 573.30L1827.07 573.31L1829.06 573.34L1831.06 573.40L1833.06 573.48L1835.05 573.57L1837.05 573.69L1839.05 573.82L1841.04 573.96L1843.04 574.12L1845.04 574.28L1847.03 574.45L1849.03 574.63L1851.02 574.81L1853.02 574.99L1855.02 575.17L1857.01 575.35L1859.01 575.52L1861.00 575.68L1863.00 575.84L1865.00 575.99L1866.99 576.12L1868.99 576.23L1870.99 576.33L1872.99 576.41L1874.99 576.47L1876.98 576.51L1878.98 576.54L1880.98 576.56L1882.98 576.59L1884.98 576.62L1886.98 576.64L1888.98 576.67L1890.98 576.69L1892.98 576.71L1894.98 576.73L1896.98 576.75L1898.98 576.77L1900.98 576.79L1902.98 576.81L1904.98 576.82L1906.98 576.84L1908.98 576.85L1910.99 576.86L1912.99 576.87L1914.99 576.88L1916.99 576.89L1918.99 576.89L1921.00 576.90L1923.00 576.90L1925.00 576.90"/>
<path stroke="#1a6ae0" d="M178.50 816.80L180.49 816.41L182.48 816.04L184.48 815.69L186.47 815.37L188.46 815.07L190.45 814.79L192.44 814.54L194.44 814.31L196.43 814.10L198.42 813.91L200.41 813.75L202.40 813.60L204.39 813.48L206.39 813.38L208.38 813.31L210.37 813.25L212.36 813.21L214.35 813.20L216.34 813.22L218.33 813.31L220.32 813.45L222.31 813.64L224.30 813.87L226.29 814.14L228.28 814.42L230.27 814.73L232.26 815.03L234.25 815.34L236.24 815.64L238.23 815.92L240.22 816.18L242.21 816.40L244.20 816.58L246.20 816.71L248.19 816.79L250.19 816.80L252.18 816.80L254.18 816.79L256.18 816.79L258.17 816.78L260.17 816.77L262.17 816.76L264.17 816.74L266.17 816.72L268.17 816.71L270.17 816.69L272.17 816.67L274.17 816.64L276.17 816.62L278.17 816.59L280.18 816.56L282.18 816.54L284.18 816.50L286.18 816.47L288.19 816.44L290.19 816.41L292.19 816.37L294.19 816.34L296.20 816.30L298.20 816.26L300.20 816.23L302.21 816.19L304.21 816.15L306.21 816.11L308.22 816.07L310.22 816.03L312.22 815.99L314.23 815.94L316.23 815.90L318.23 815.86L320.23 815.82L322.24 815.78L324.24 815.74L326.24 815.69L328.24 815.65L330.24 815.61L332.24 815.57L334.24 815.52L336.24 815.47L338.24 815.41L340.24 815.35L342.25 815.28L344.25 815.21L346.25 815.14L348.25 815.06L350.25 814.98L352.25 814.89L354.25 814.81L356.25 814.72L358.25 814.63L360.25 814.53L362.25 814.44L364.25 814.34L366.25 814.24L368.25 814.14L370.25 814.04L372.25 813.94L374.25 813.84L376.25 813.74L378.25 813.64L380.25 813.53L382.25 813.43L384.25 813.33L386.25 813.23L388.25 813.13L390.25 813.04L392.25 812.94L394.25 812.85L396.25 812.75L398.25 812.66L400.25 812.58L402.25 812.49L404.25 812.41L406.25 812.33L408.25 812.26L410.25 812.19L412.25 812.12L414.25 812.06L416.25 812.00L418.25 811.94L420.25 811.89L422.25 811.85L424.25 811.81L426.25 811.78L428.25 811.75L430.25 811.73L432.25 811.71L434.25 811.70L436.25 811.70L438.25 811.71L440.25 811.74L442.25 811.78L444.25 811.83L446.24 811.90L448.24 811.98L450.24 812.07L452.24 812.17L454.24 812.28L456.24 812.39L458.24 812.52L460.23 812.65L462.23 812.79L464.23 812.93L466.23 813.08L468.23 813.23L470.23 813.38L472.23 813.54L474.22 813.69L476.22 813.85L478.22 814.00L480.22 814.16L482.22 814.30L484.22 814.45L486.21 814.59L488.21 814.73L490.21 814.85L492.21 814.98L494.21 815.09L496.21 815.19L498.21 815.29L500.21 815.37L502.21 815.44L504.21 815.50L506.21 815.55L508.21 815.58L510.20 815.60L512.20 815.60L514.21 815.60L516.21 815.59L518.21 815.58L520.21 815.58L522.21 815.56L524.21 815.55L526.21 815.53L528.21 815.52L530.21 815.50L532.21 815.48L534.21 815.46L536.21 815.43L538.22 815.41L540.22 815.38L542.22 815.36L544.22 815.33L546.22 815.30L548.22 815.27L550.23 815.24L552.23 815.21L554.23 815.18L556.23 815.15L558.23 815.12L560.23 815.09L562.24 815.06L564.24 815.03L566.24 815.01L568.24 814.98L570.24 814.95L572.25 814.92L574.25 814.90L576.25 814.87L578.25 814.85L580.25 814.83L582.25 814.81L584.26 814.79L586.26 814.77L588.26 814.75L590.26 814.74L592.26 814.73L594.26 814.72L596.27 814.71L598.27 814.70L600.27 814.70L602.27 814.70L604.27 814.71L606.27 814.72L608.27 814.73L610.27 814.75L612.27 814.78L614.28 814.81L616.28 814.85L618.28 814.89L620.28 814.93L622.28 814.98L624.28 815.03L626.28 815.08L628.28 815.14L630.29 815.20L632.29 815.26L634.29 815.33L636.29 815.39L638.29 815.46L640.29 815.52L642.29 815.59L644.29 815.66L646.29 815.73L648.29 815.80L650.30 815.87L652.30 815.94L654.30 816.01L656.30 816.08L658.30 816.14L660.30 816.21L662.30 816.27L664.30 816.33L666.30 816.39L668.30 816.44L670.31 816.50L672.31 816.54L674.31 816.59L676.31 816.63L678.31 816.67L680.31 816.70L682.31 816.73L684.31 816.76L686.31 816.78L688.31 816.79L690.31 816.80L692.31 816.80L694.31 816.79L696.31 816.77L698.31 816.74L700.31 816.70L702.31 816.64L704.31 816.58L706.31 816.51L708.31 816.43L710.31 816.35L712.31 816.26L714.31 816.17L716.31 816.07L718.31 815.97L720.31 815.87L722.31 815.77L724.31 815.67L726.31 815.56L728.31 815.46L730.31 815.37L732.31 815.27L734.31 815.18L736.31 815.09L738.31 815.01L740.32 814.94L742.32 814.87L744.32 814.81L746.32 814.76L748.32 814.72L750.32 814.70L752.32 814.67L754.32 814.66L756.32 814.64L758.33 814.63L760.33 814.62L762.33 814.61L764.33 814.60L766.33 814.59L768.34 814.57L770.34 814.56L772.34 814.53L774.34 814.51L776.34 814.47L778.35 814.41L780.37 814.33L782.38 814.22L784.40 814.09L786.41 813.93L788.41 813.75L790.40 813.55L792.37 813.33L794.32 813.09L796.25 812.79L798.18 812.32L800.11 811.69L802.02 810.94L803.89 810.10L805.71 809.21L807.47 808.29L809.16 807.33L810.79 806.22L812.38 804.99L813.93 803.68L815.45 802.32L816.94 800.95L818.43 799.61L819.86 798.22L821.25 796.78L822.63 795.32L824.03 793.87L825.46 792.48L826.96 791.05L828.50 789.41L830.09 788.22L831.73 788.12L833.48 789.06L835.22 790.41L836.83 791.63L838.34 792.94L839.80 794.36L841.23 795.79L842.69 797.18L844.22 798.45L845.84 799.54L847.53 800.56L849.28 801.53L851.08 802.45L852.91 803.32L854.76 804.15L856.61 804.94L858.46 805.68L860.31 806.41L862.19 807.13L864.08 807.83L865.98 808.50L867.89 809.14L869.81 809.72L871.74 810.26L873.68 810.72L875.62 811.12L877.58 811.50L879.54 811.86L881.52 812.20L883.51 812.51L885.50 812.80L887.49 813.05L889.49 813.25L891.49 813.41L893.48 813.52L895.48 813.61L897.48 813.69L899.48 813.75L901.48 813.79L903.49 813.80L905.49 813.79L907.50 813.76L909.49 813.71L911.48 813.54L913.44 813.12L915.37 812.53L917.26 811.74L919.02 810.82L920.62 809.75L922.11 808.42L923.52 806.93L924.84 805.36L926.10 803.81L927.33 802.22L928.53 800.57L929.64 798.87L930.60 797.12L931.37 795.33L932.02 793.47L932.61 791.55L933.13 789.59L933.61 787.62L934.06 785.66L934.49 783.71L934.89 781.75L935.26 779.78L935.62 777.81L935.96 775.84L936.30 773.86L936.64 771.89L936.98 769.91L937.29 767.94L937.56 765.95L937.76 763.97L937.93 761.98L938.07 759.98L938.21 757.99L938.33 755.99L938.44 753.99L938.55 751.99L938.65 749.99L938.76 747.99L938.86 745.99L938.98 743.99L939.11 741.99L939.23 739.99L939.35 737.99L939.47 736.00L939.59 734.00L939.71 732.00L939.83 730.00L939.95 728.00L940.08 726.01L940.21 724.01L940.35 722.01L940.49 720.02L940.64 718.02L940.79 716.02L940.94 714.03L941.10 712.03L941.25 710.04L941.41 708.04L941.57 706.05L941.73 704.05L941.88 702.06L942.03 700.06L942.19 698.07L942.35 696.07L942.51 694.07L942.67 692.08L942.83 690.08L942.98 688.09L943.13 686.09L943.28 684.10L943.42 682.10L943.55 680.10L943.68 678.11L943.79 676.11L943.90 674.11L944.01 672.11L944.12 670.11L944.23 668.11L944.34 666.11L944.45 664.12L944.57 662.12L944.69 660.12L944.83 658.12L944.97 656.13L945.12 654.13L945.27 652.14L945.42 650.14L945.58 648.14L945.74 646.15L945.89 644.15L946.04 642.16L946.19 640.16L946.33 638.17L946.46 636.17L946.59 634.17L946.72 632.17L946.85 630.17L946.98 628.18L947.11 626.18L947.25 624.18L947.39 622.19L947.54 620.19L947.71 618.20L947.87 616.20L948.04 614.20L948.22 612.21L948.42 610.22L948.64 608.23L948.88 606.24L949.16 604.11L949.53 601.56L949.92 599.97L950.30 600.65L950.69 602.97L951.01 605.37L951.26 607.35L951.48 609.34L951.67 611.33L951.86 613.33L952.03 615.32L952.20 617.32L952.38 619.31L952.57 621.31L952.75 623.30L952.93 625.29L953.11 627.29L953.29 629.28L953.47 631.28L953.64 633.27L953.81 635.26L953.98 637.26L954.14 639.25L954.30 641.25L954.46 643.24L954.61 645.24L954.77 647.23L954.92 649.23L955.07 651.23L955.21 653.22L955.36 655.22L955.50 657.21L955.64 659.21L955.78 661.21L955.92 663.20L956.06 665.20L956.19 667.20L956.32 669.20L956.45 671.19L956.58 673.19L956.71 675.19L956.85 677.18L956.98 679.18L957.12 681.18L957.26 683.17L957.40 685.17L957.55 687.17L957.70 689.16L957.84 691.16L957.99 693.16L958.14 695.15L958.28 697.15L958.42 699.15L958.56 701.14L958.69 703.14L958.82 705.14L958.94 707.13L959.07 709.13L959.19 711.13L959.31 713.13L959.43 715.13L959.55 717.12L959.67 719.12L959.80 721.12L959.93 723.12L960.05 725.11L960.18 727.11L960.31 729.11L960.44 731.11L960.57 733.10L960.70 735.10L960.84 737.10L960.97 739.09L961.11 741.09L961.26 743.09L961.40 745.08L961.54 747.08L961.68 749.08L961.83 751.08L961.97 753.07L962.12 755.07L962.28 757.07L962.45 759.06L962.64 761.05L962.83 763.04L963.05 765.03L963.30 767.01L963.59 768.99L963.91 770.97L964.24 772.95L964.59 774.92L964.93 776.89L965.29 778.86L965.67 780.83L966.07 782.79L966.52 784.74L967.00 786.68L967.54 788.61L968.13 790.53L968.77 792.44L969.45 794.32L970.17 796.17L970.95 798.03L971.81 799.88L972.75 801.65L973.81 803.31L975.02 804.89L976.42 806.42L977.94 807.76L979.55 808.82L981.32 809.74L983.23 810.52L985.16 811.07L987.10 811.42L989.10 811.68L991.10 811.90L993.09 812.11L995.08 812.32L997.07 812.51L999.07 812.68L1001.06 812.85L1003.06 813.01L1005.06 813.16L1007.05 813.31L1009.05 813.44L1011.05 813.57L1013.05 813.70L1015.04 813.84L1017.04 813.97L1019.04 814.10L1021.04 814.22L1023.04 814.32L1025.04 814.40L1027.04 814.46L1029.04 814.50L1031.04 814.50L1033.04 814.49L1035.04 814.48L1037.04 814.46L1039.04 814.44L1041.05 814.41L1043.05 814.38L1045.05 814.34L1047.05 814.30L1049.05 814.26L1051.05 814.22L1053.06 814.17L1055.06 814.12L1057.06 814.07L1059.06 814.02L1061.06 813.97L1063.06 813.90L1065.06 813.81L1067.06 813.71L1069.05 813.60L1071.05 813.47L1073.05 813.33L1075.05 813.19L1077.05 813.05L1079.04 812.90L1081.04 812.75L1083.04 812.61L1085.04 812.47L1087.04 812.34L1089.03 812.22L1091.03 812.10L1093.03 812.00L1095.03 811.92L1097.03 811.86L1099.03 811.81L1101.03 811.79L1103.03 811.77L1105.03 811.75L1107.03 811.74L1109.03 811.72L1111.03 811.71L1113.03 811.70L1115.04 811.69L1117.04 811.68L1119.04 811.67L1121.04 811.66L1123.04 811.65L1125.05 811.65L1127.05 811.64L1129.05 811.63L1131.05 811.62L1133.06 811.62L1135.06 811.61L1137.06 811.60L1139.06 811.59L1141.06 811.58L1143.06 811.56L1145.06 811.55L1147.06 811.53L1149.06 811.51L1151.06 811.49L1153.06 811.44L1155.06 811.38L1157.06 811.30L1159.06 811.20L1161.06 811.09L1163.06 810.97L1165.05 810.83L1167.05 810.68L1169.05 810.52L1171.05 810.36L1173.04 810.19L1175.04 810.01L1177.04 809.84L1179.03 809.66L1181.03 809.48L1183.03 809.30L1185.03 809.12L1187.02 808.95L1189.02 808.79L1191.02 808.63L1193.01 808.48L1195.01 808.35L1197.01 808.22L1199.01 808.11L1201.00 808.01L1203.00 807.93L1205.00 807.87L1207.00 807.83L1209.00 807.80L1211.00 807.80L1212.99 807.81L1214.99 807.82L1216.99 807.83L1218.99 807.86L1220.99 807.88L1222.99 807.91L1224.99 807.95L1226.99 807.99L1228.99 808.03L1230.99 808.08L1232.99 808.13L1234.99 808.19L1236.99 808.25L1238.99 808.31L1240.99 808.37L1243.00 808.44L1245.00 808.51L1247.00 808.59L1249.00 808.66L1251.00 808.74L1253.00 808.82L1255.00 808.90L1257.00 808.98L1259.00 809.06L1261.00 809.15L1263.00 809.23L1265.00 809.32L1267.01 809.41L1269.01 809.49L1271.01 809.58L1273.01 809.67L1275.01 809.75L1277.01 809.84L1279.01 809.93L1281.01 810.01L1283.01 810.09L1285.01 810.18L1287.01 810.26L1289.01 810.34L1291.01 810.42L1293.02 810.49L1295.02 810.56L1297.02 810.64L1299.02 810.71L1301.02 810.79L1303.02 810.87L1305.02 810.95L1307.02 811.03L1309.02 811.11L1311.02 811.20L1313.02 811.28L1315.02 811.37L1317.01 811.45L1319.01 811.54L1321.01 811.63L1323.01 811.71L1325.01 811.80L1327.01 811.88L1329.01 811.97L1331.01 812.05L1333.01 812.13L1335.01 812.21L1337.01 812.28L1339.01 812.35L1341.01 812.43L1343.01 812.49L1345.01 812.56L1347.01 812.62L1349.02 812.67L1351.02 812.73L1353.02 812.78L1355.02 812.84L1357.02 812.89L1359.02 812.95L1361.02 813.00L1363.02 813.06L1365.02 813.11L1367.02 813.16L1369.02 813.22L1371.03 813.27L1373.03 813.32L1375.03 813.37L1377.03 813.41L1379.03 813.45L1381.03 813.49L1383.03 813.53L1385.04 813.57L1387.04 813.60L1389.04 813.63L1391.04 813.65L1393.04 813.67L1395.04 813.68L1397.04 813.69L1399.04 813.70L1401.04 813.70L1403.04 813.69L1405.05 813.66L1407.05 813.62L1409.05 813.58L1411.05 813.52L1413.05 813.46L1415.05 813.39L1417.05 813.31L1419.05 813.23L1421.05 813.14L1423.05 813.05L1425.05 812.95L1427.05 812.86L1429.05 812.76L1431.05 812.66L1433.05 812.50L1435.04 812.30L1437.04 812.13L1439.03 812.02L1441.03 812.00L1443.04 812.00L1445.05 812.00L1447.05 812.00L1449.05 812.00L1451.05 812.00L1453.03 811.95L1454.99 811.64L1456.95 811.16L1458.91 810.65L1460.88 810.26L1462.87 809.94L1464.86 809.64L1466.86 809.34L1468.83 809.01L1470.78 808.62L1472.69 808.14L1474.59 807.49L1476.48 806.69L1478.29 805.78L1479.98 804.78L1481.56 803.64L1483.07 802.30L1484.50 800.82L1485.82 799.28L1487.03 797.72L1488.14 796.09L1489.18 794.37L1490.16 792.61L1491.11 790.82L1492.03 789.03L1492.94 787.25L1493.82 785.45L1494.68 783.64L1495.51 781.82L1496.33 779.99L1497.13 778.15L1497.92 776.32L1498.70 774.47L1499.46 772.62L1500.20 770.76L1500.93 768.90L1501.66 767.03L1502.38 765.17L1503.10 763.30L1503.79 761.42L1504.47 759.54L1505.15 757.65L1505.84 755.77L1506.54 753.90L1507.27 752.03L1508.01 750.18L1508.76 748.31L1509.52 746.45L1510.31 744.60L1511.14 742.78L1512.03 741.00L1512.98 739.24L1513.99 737.45L1515.09 735.71L1516.29 734.14L1517.66 732.77L1519.35 731.37L1521.13 730.53L1522.92 730.89L1524.75 732.13L1526.09 733.54L1527.01 735.15L1527.76 737.05L1528.41 739.07L1529.02 741.06L1529.61 742.96L1530.15 744.89L1530.64 746.83L1531.13 748.77L1531.61 750.72L1532.10 752.66L1532.63 754.59L1533.16 756.52L1533.70 758.45L1534.24 760.38L1534.79 762.30L1535.34 764.23L1535.89 766.15L1536.43 768.08L1536.98 770.00L1537.53 771.93L1538.08 773.85L1538.64 775.78L1539.21 777.69L1539.78 779.61L1540.36 781.53L1540.93 783.45L1541.52 785.37L1542.13 787.28L1542.78 789.16L1543.48 791.04L1544.20 792.94L1544.98 794.83L1545.83 796.64L1546.81 798.32L1547.99 799.89L1549.38 801.39L1550.91 802.76L1552.48 803.96L1554.15 804.98L1555.93 805.90L1557.78 806.75L1559.64 807.56L1561.47 808.39L1563.29 809.26L1565.14 810.09L1567.01 810.79L1568.91 811.29L1570.86 811.71L1572.85 812.08L1574.85 812.33L1576.84 812.40L1578.84 812.40L1580.83 812.40L1582.83 812.40L1584.83 812.40L1586.83 812.40L1588.84 812.40L1590.84 812.40L1592.85 812.40L1594.85 812.40L1596.86 812.40L1598.86 812.40L1600.86 812.40L1602.87 812.41L1604.87 812.44L1606.87 812.48L1608.87 812.52L1610.87 812.57L1612.87 812.62L1614.87 812.68L1616.87 812.74L1618.88 812.80L1620.88 812.85L1622.88 812.90L1624.88 812.94L1626.88 812.97L1628.88 812.99L1630.88 813.00L1632.88 812.99L1634.88 812.98L1636.88 812.95L1638.88 812.91L1640.88 812.86L1642.88 812.80L1644.89 812.73L1646.89 812.65L1648.89 812.57L1650.89 812.49L1652.89 812.40L1654.89 812.30L1656.89 812.20L1658.89 812.11L1660.89 812.01L1662.89 811.91L1664.89 811.81L1666.89 811.71L1668.89 811.61L1670.89 811.52L1672.89 811.44L1674.89 811.36L1676.89 811.28L1678.89 811.21L1680.89 811.15L1682.89 811.10L1684.89 811.06L1686.89 811.03L1688.89 811.01L1690.89 811.00L1692.89 811.00L1694.90 811.00L1696.90 811.01L1698.90 811.01L1700.90 811.02L1702.90 811.03L1704.90 811.04L1706.90 811.06L1708.91 811.07L1710.91 811.09L1712.91 811.10L1714.91 811.12L1716.91 811.14L1718.91 811.16L1720.92 811.19L1722.92 811.21L1724.92 811.24L1726.92 811.26L1728.92 811.29L1730.92 811.32L1732.93 811.35L1734.93 811.38L1736.93 811.41L1738.93 811.44L1740.93 811.47L1742.93 811.51L1744.93 811.54L1746.94 811.58L1748.94 811.61L1750.94 811.65L1752.94 811.69L1754.94 811.73L1756.94 811.76L1758.94 811.80L1760.94 811.85L1762.94 811.90L1764.94 811.97L1766.94 812.04L1768.94 812.13L1770.94 812.21L1772.94 812.31L1774.94 812.41L1776.94 812.51L1778.94 812.62L1780.94 812.72L1782.93 812.83L1784.93 812.94L1786.93 813.04L1788.93 813.15L1790.93 813.25L1792.93 813.34L1794.93 813.44L1796.93 813.52L1798.93 813.60L1800.93 813.67L1802.93 813.73L1804.93 813.79L1806.93 813.85L1808.93 813.91L1810.93 813.97L1812.93 814.03L1814.93 814.09L1816.93 814.15L1818.94 814.21L1820.94 814.27L1822.94 814.33L1824.94 814.39L1826.94 814.45L1828.94 814.50L1830.94 814.56L1832.94 814.61L1834.94 814.67L1836.94 814.72L1838.95 814.77L1840.95 814.82L1842.95 814.87L1844.95 814.91L1846.95 814.96L1848.95 815.00L1850.95 815.04L1852.96 815.07L1854.96 815.11L1856.96 815.14L1858.96 815.17L1860.96 815.20L1862.96 815.22L1864.96 815.24L1866.96 815.26L1868.97 815.27L1870.97 815.29L1872.97 815.29L1874.97 815.30L1876.97 815.30L1878.97 815.30L1880.97 815.29L1882.97 815.28L1884.97 815.27L1886.98 815.26L1888.98 815.24L1890.98 815.22L1892.98 815.20L1894.98 815.18L1896.98 815.15L1898.98 815.12L1900.98 815.09L1902.99 815.05L1904.99 815.01L1906.99 814.97L1908.99 814.93L1910.99 814.88L1912.99 814.84L1914.99 814.79L1916.99 814.73L1919.00 814.68L1921.00 814.62L1923.00 814.56L1925.00 814.50"/>
<path stroke="#31a868" d="M178.50 989.06L180.51 989.07L182.53 988.64L184.54 988.55L186.55 988.49L188.56 988.68L190.56 988.63L192.57 988.65L194.57 988.58L196.58 988.48L198.58 988.56L200.58 988.69L202.58 989.01L204.57 988.88L206.57 988.69L208.57 988.38L210.56 988.15L212.56 988.26L214.55 988.15L216.54 988.13L218.53 987.94L220.52 988.18L222.51 988.28L224.50 988.11L226.49 987.76L228.48 987.62L230.47 987.46L232.46 987.13L234.43 986.67L236.38 986.39L238.31 986.06L240.23 985.17L242.13 984.43L244.03 984.05L245.91 984.52L247.77 985.42L249.60 986.28L251.38 987.82L253.14 989.03L254.94 989.60L256.82 989.43L258.77 988.91L260.73 988.24L262.66 987.46L264.54 986.60L266.42 985.85L268.30 985.38L270.20 985.29L272.11 986.02L274.03 986.83L275.96 987.86L277.89 988.63L279.83 988.85L281.76 988.54L283.70 987.61L285.65 986.99L287.61 986.46L289.58 986.67L291.56 986.62L293.54 987.32L295.53 987.92L297.51 988.46L299.50 988.80L301.49 988.72L303.48 988.91L305.48 988.86L307.47 988.95L309.47 989.11L311.47 989.44L313.47 989.55L315.47 989.70L317.47 989.53L319.47 989.92L321.47 989.92L323.47 990.04L325.47 989.91L327.47 989.88L329.47 989.64L331.47 989.73L333.47 989.54L335.47 989.73L337.47 989.64L339.47 989.70L341.47 989.69L343.47 989.76L345.47 989.85L347.47 989.73L349.47 989.25L351.47 989.14L353.47 989.18L355.47 989.46L357.47 989.46L359.47 989.57L361.47 989.56L363.47 989.66L365.48 989.70L367.48 989.67L369.48 989.64L371.48 989.82L373.48 990.02L375.47 989.90L377.47 989.63L379.47 989.57L381.47 989.85L383.47 989.85L385.47 989.69L387.47 989.42L389.47 989.44L391.47 989.49L393.47 989.47L395.47 989.32L397.47 989.17L399.47 989.26L401.47 989.14L403.47 989.18L405.47 989.12L407.47 989.19L409.47 988.96L411.47 988.94L413.46 988.73L415.46 988.80L417.46 988.47L419.46 988.27L421.46 988.16L423.46 988.20L425.46 988.31L427.46 988.24L429.46 988.05L431.46 987.89L433.46 987.75L435.46 987.97L437.46 988.07L439.45 987.95L441.45 987.71L443.45 987.49L445.45 987.42L447.45 987.38L449.45 987.31L451.45 987.10L453.45 986.83L455.45 986.84L457.45 986.99L459.45 987.18L461.45 987.04L463.45 987.06L465.44 986.92L467.44 986.95L469.44 986.93L471.44 986.91L473.44 986.80L475.44 986.81L477.44 986.59L479.44 986.69L481.44 986.56L483.44 986.77L485.44 986.70L487.44 986.73L489.44 986.71L491.44 986.96L493.44 986.93L495.44 987.01L497.44 986.93L499.44 986.93L501.44 987.28L503.44 987.36L505.44 987.38L507.44 987.26L509.44 987.16L511.44 987.38L513.44 987.29L515.44 987.28L517.44 987.11L519.44 986.84L521.44 986.78L523.44 986.52L525.44 986.30L527.44 986.17L529.43 986.36L531.43 986.47L533.43 986.60L535.42 986.50L537.42 986.33L539.41 986.12L541.40 985.92L543.38 986.07L545.37 986.24L547.36 986.84L549.34 987.39L551.32 987.81L553.31 988.07L555.29 988.15L557.27 988.48L559.25 988.79L561.24 989.15L563.22 989.08L565.20 989.14L567.18 988.97L569.16 988.70L571.14 988.03L573.13 987.46L575.11 987.13L577.09 986.90L579.08 986.81L581.07 986.84L583.06 987.01L585.05 987.10L587.04 987.02L589.03 986.93L591.03 986.78L593.02 986.77L595.01 986.99L597.01 987.03L599.01 987.38L601.00 987.17L603.00 987.32L605.00 987.28L607.00 987.39L609.00 987.47L611.00 987.39L613.00 987.40L615.00 987.41L617.00 987.44L619.00 987.76L621.00 987.84L623.01 988.20L625.01 987.77L627.01 987.87L629.01 987.81L631.02 988.16L633.02 988.36L635.02 988.44L637.02 988.51L639.03 988.49L641.03 988.81L643.03 988.92L645.04 988.96L647.04 988.63L649.04 988.66L651.04 988.51L653.04 988.57L655.04 988.87L657.05 989.17L659.05 989.28L661.05 989.13L663.05 989.22L665.05 989.22L667.05 989.33L669.05 989.24L671.05 989.19L673.05 989.14L675.05 988.74L677.05 988.66L679.05 988.49L681.05 988.66L683.06 988.71L685.06 988.60L687.06 988.63L689.06 988.97L691.06 989.11L693.06 989.18L695.06 989.02L697.07 988.92L699.07 989.03L701.07 988.92L703.07 989.13L705.07 988.87L707.07 988.91L709.07 988.74L711.06 988.77L713.06 988.80L715.06 988.69L717.06 989.01L719.06 988.95L721.05 989.13L723.05 988.94L725.04 988.90L727.04 988.45L729.03 988.25L731.02 987.85L733.01 987.87L735.00 987.64L737.00 987.59L738.99 987.32L740.99 987.45L742.99 987.59L744.99 987.62L746.99 987.37L748.99 987.10L750.99 987.23L752.99 987.40L754.99 987.17L756.98 986.86L758.97 986.34L760.96 986.10L762.95 985.68L764.93 985.53L766.92 985.21L768.90 985.31L770.89 985.17L772.88 985.07L774.87 984.78L776.87 984.71L778.87 985.16L780.88 985.39L782.88 985.51L784.88 985.55L786.87 985.86L788.85 986.05L790.81 986.22L792.75 985.96L794.69 985.64L796.62 984.77L798.54 984.06L800.46 983.27L802.37 982.41L804.28 981.83L806.20 981.06L808.12 980.74L810.03 979.94L811.94 979.76L813.83 979.14L815.69 978.72L817.52 977.81L819.31 976.72L821.08 975.41L822.85 974.33L824.67 973.74L826.52 973.27L828.31 973.30L830.16 974.07L831.92 974.82L833.57 975.92L835.22 977.19L836.97 978.22L838.78 978.76L840.63 979.27L842.52 979.99L844.43 980.92L846.36 981.43L848.28 982.03L850.23 982.15L852.20 982.72L854.18 983.24L856.13 984.07L858.04 984.43L859.91 985.14L861.78 985.47L863.67 986.17L865.62 986.18L867.60 986.41L869.61 986.42L871.64 986.44L873.66 986.67L875.65 986.64L877.63 986.59L879.60 985.88L881.55 985.13L883.45 984.38L885.28 983.92L887.05 983.12L888.79 982.32L890.53 981.17L892.26 980.13L893.96 978.93L895.60 977.88L897.21 976.78L898.78 975.45L900.33 974.37L901.87 972.99L903.41 971.91L904.96 970.48L906.52 969.43L908.08 967.88L909.63 966.68L911.18 965.20L912.74 964.14L914.31 962.97L915.89 961.66L917.48 960.27L919.08 958.81L920.67 957.76L922.22 956.44L923.77 955.28L925.29 953.79L926.74 952.51L928.09 950.99L929.38 949.62L930.53 948.04L931.49 946.32L932.34 944.47L933.11 942.66L933.83 940.51L934.52 938.57L935.20 936.74L935.85 935.29L936.48 933.68L937.09 931.83L937.67 929.80L938.25 927.54L938.82 925.55L939.38 923.71L939.93 922.05L940.47 920.01L941.00 918.02L941.52 916.03L942.03 914.42L942.54 912.49L943.04 910.39L943.53 908.16L944.02 906.15L944.51 904.19L944.99 902.43L945.46 900.65L945.92 898.86L946.38 896.96L946.82 894.83L947.25 892.84L947.68 890.70L948.08 888.80L948.49 886.94L948.90 885.02L949.31 882.84L949.71 880.70L950.10 878.65L950.47 876.73L950.82 874.69L951.13 872.92L951.41 871.31L951.65 869.37L951.86 867.39L952.02 865.33L952.17 863.26L952.30 861.13L952.43 858.99L952.57 857.14L952.72 854.96L952.89 852.94L953.10 851.06L953.34 849.42L953.70 847.71L954.15 845.59L954.67 843.72L955.24 841.44L955.91 839.29L956.58 839.85L957.23 842.12L957.76 844.28L958.24 846.13L958.66 848.27L958.98 850.21L959.25 852.16L959.49 854.11L959.71 856.10L959.91 858.07L960.10 860.11L960.28 862.03L960.44 864.00L960.60 865.78L960.77 867.66L960.93 869.66L961.09 871.93L961.24 873.99L961.39 876.05L961.53 877.70L961.66 879.73L961.80 881.90L961.94 884.13L962.07 886.13L962.21 887.95L962.35 889.74L962.49 891.72L962.62 893.61L962.76 895.59L962.89 897.72L963.03 899.89L963.17 902.05L963.31 903.98L963.46 905.75L963.62 907.68L963.79 909.58L963.96 911.84L964.14 913.90L964.33 916.09L964.52 917.94L964.72 919.65L964.93 921.67L965.15 923.84L965.38 925.86L965.62 927.75L965.88 929.73L966.17 931.76L966.49 933.92L966.81 935.72L967.12 937.69L967.41 939.63L967.69 941.68L967.97 943.71L968.25 945.63L968.53 947.35L968.82 949.62L969.10 951.40L969.39 953.65L969.69 955.37L970.03 957.48L970.42 959.51L970.84 961.43L971.30 963.42L971.81 965.22L972.37 967.15L972.98 968.92L973.68 970.72L974.45 972.58L975.29 974.55L976.20 976.43L977.18 978.37L978.31 979.99L979.59 981.44L981.01 982.47L982.62 983.60L984.35 984.68L986.20 985.61L988.16 986.16L990.13 986.64L992.09 986.74L994.08 986.96L996.07 987.09L998.08 987.72L1000.08 988.01L1002.07 987.88L1004.07 987.67L1006.06 987.64L1008.06 987.79L1010.05 987.58L1012.05 987.29L1014.05 987.07L1016.05 987.03L1018.05 987.17L1020.05 987.25L1022.04 986.97L1024.04 986.57L1026.04 986.18L1028.04 986.10L1030.04 986.09L1032.04 986.04L1034.04 986.00L1036.04 986.03L1038.03 985.90L1040.03 985.72L1042.03 985.38L1044.02 985.32L1046.02 985.41L1048.01 985.48L1050.01 985.82L1052.01 986.13L1054.00 986.49L1056.00 986.52L1057.99 986.53L1059.99 986.69L1061.98 987.23L1063.97 987.38L1065.97 987.72L1067.96 987.80L1069.96 988.26L1071.95 988.37L1073.94 988.52L1075.94 988.49L1077.93 988.68L1079.92 988.80L1081.92 988.81L1083.91 988.61L1085.90 988.40L1087.89 988.55L1089.89 988.68L1091.88 988.61L1093.87 988.25L1095.87 987.78L1097.86 987.53L1099.85 987.43L1101.84 987.21L1103.84 986.94L1105.83 986.68L1107.82 986.67L1109.81 986.29L1111.79 986.04L1113.78 985.52L1115.77 985.31L1117.75 984.98L1119.74 985.03L1121.72 985.21L1123.70 984.90L1125.67 984.39L1127.65 983.85L1129.63 983.62L1131.62 983.71L1133.60 983.55L1135.59 984.05L1137.57 984.32L1139.56 984.75L1141.55 984.71L1143.54 985.01L1145.53 985.27L1147.52 985.67L1149.51 985.84L1151.51 985.90L1153.50 986.22L1155.49 986.54L1157.48 987.02L1159.48 987.20L1161.47 987.16L1163.46 987.34L1165.46 987.44L1167.45 987.60L1169.45 987.45L1171.44 987.51L1173.44 987.62L1175.43 987.69L1177.43 987.64L1179.43 987.58L1181.42 987.64L1183.42 987.47L1185.42 987.20L1187.42 986.86L1189.41 986.72L1191.41 986.70L1193.41 986.74L1195.41 986.57L1197.41 986.40L1199.41 986.05L1201.41 986.12L1203.41 985.93L1205.41 985.97L1207.41 985.62L1209.41 985.52L1211.41 985.29L1213.41 985.47L1215.41 985.45L1217.41 985.42L1219.41 985.03L1221.41 984.85L1223.41 984.88L1225.40 985.14L1227.40 985.01L1229.40 984.82L1231.40 984.61L1233.40 984.71L1235.40 984.65L1237.39 984.71L1239.39 984.92L1241.39 984.99L1243.39 985.09L1245.39 985.19L1247.38 985.58L1249.38 985.60L1251.38 985.87L1253.38 985.93L1255.37 986.00L1257.37 985.97L1259.37 985.90L1261.37 986.23L1263.36 986.10L1265.36 986.45L1267.36 986.42L1269.36 986.83L1271.35 986.96L1273.35 987.22L1275.35 987.22L1277.35 987.39L1279.35 987.26L1281.34 987.42L1283.34 987.46L1285.34 987.85L1287.34 988.00L1289.34 988.48L1291.33 988.52L1293.33 988.59L1295.33 988.25L1297.33 988.48L1299.33 988.20L1301.33 988.42L1303.33 988.18L1305.33 988.17L1307.33 987.86L1309.33 987.93L1311.33 988.23L1313.33 988.36L1315.33 988.49L1317.33 988.48L1319.33 988.49L1321.33 988.15L1323.33 988.22L1325.33 988.36L1327.33 988.57L1329.33 988.30L1331.34 988.04L1333.34 988.29L1335.34 988.44L1337.34 988.53L1339.34 988.24L1341.34 988.40L1343.34 988.41L1345.33 988.41L1347.33 988.15L1349.33 988.21L1351.33 988.42L1353.32 988.53L1355.32 988.56L1357.32 988.34L1359.31 988.23L1361.31 987.98L1363.30 987.77L1365.30 987.67L1367.29 987.48L1369.29 987.19L1371.28 986.86L1373.27 986.57L1375.27 986.48L1377.26 986.29L1379.26 986.16L1381.25 985.77L1383.24 985.65L1385.24 985.64L1387.23 985.58L1389.22 985.69L1391.22 985.58L1393.21 985.78L1395.21 985.51L1397.21 985.78L1399.21 985.91L1401.21 986.30L1403.21 986.49L1405.20 986.76L1407.20 986.97L1409.19 987.03L1411.19 987.37L1413.17 987.76L1415.16 988.11L1417.14 988.29L1419.11 988.25L1421.08 988.11L1423.03 987.42L1424.99 987.21L1426.95 987.31L1428.92 987.66L1430.89 987.77L1432.84 988.00L1434.78 987.81L1436.72 987.40L1438.65 986.64L1440.57 986.00L1442.50 985.52L1444.43 985.10L1446.37 984.64L1448.32 984.16L1450.26 983.37L1452.20 982.85L1454.13 982.21L1456.03 981.76L1457.94 981.18L1459.85 980.57L1461.72 979.63L1463.52 978.78L1465.24 977.61L1466.90 976.75L1468.51 975.70L1470.04 974.57L1471.47 972.95L1472.82 971.43L1474.11 969.86L1475.33 968.20L1476.46 966.43L1477.48 964.76L1478.39 963.25L1479.23 961.55L1480.07 959.71L1480.97 957.88L1481.95 956.11L1482.96 954.28L1484.05 952.46L1485.25 950.86L1486.60 949.30L1488.10 948.26L1489.71 947.20L1491.50 946.34L1493.45 945.39L1495.37 945.40L1497.32 946.10L1499.04 947.12L1500.53 948.35L1501.90 949.99L1503.19 951.48L1504.44 953.13L1505.64 954.72L1506.79 956.30L1507.91 957.94L1509.03 959.54L1510.16 961.29L1511.29 962.86L1512.41 964.27L1513.54 966.10L1514.68 967.69L1515.86 969.37L1517.04 970.95L1518.24 972.48L1519.48 974.31L1520.80 975.75L1522.23 977.39L1523.78 978.56L1525.42 979.57L1527.11 980.35L1528.86 981.43L1530.69 982.30L1532.58 983.16L1534.48 983.86L1536.36 984.56L1538.23 985.44L1540.11 986.07L1542.00 986.74L1543.93 986.83L1545.91 986.61L1547.92 986.46L1549.91 986.41L1551.86 986.20L1553.75 986.48L1555.62 987.32L1557.52 988.31L1559.48 988.69L1561.48 988.90L1563.49 988.80L1565.50 989.04L1567.49 988.91L1569.44 988.70L1571.39 988.03L1573.36 988.03L1575.33 988.20L1577.30 988.52L1579.28 988.89L1581.27 989.22L1583.26 989.39L1585.24 989.53L1587.21 989.52L1589.18 989.55L1591.13 989.00L1593.09 988.40L1595.04 987.64L1596.98 986.94L1598.93 986.34L1600.89 985.87L1602.85 985.45L1604.81 985.30L1606.78 984.86L1608.76 984.72L1610.75 984.31L1612.75 984.53L1614.75 984.49L1616.76 984.44L1618.77 984.10L1620.78 983.96L1622.78 983.78L1624.79 983.95L1626.79 984.07L1628.78 984.31L1630.77 984.11L1632.74 984.40L1634.71 984.41L1636.67 984.63L1638.63 984.78L1640.59 985.46L1642.54 986.38L1644.49 986.89L1646.44 987.51L1648.40 988.14L1650.35 988.59L1652.31 988.74L1654.28 988.50L1656.25 988.63L1658.23 988.74L1660.21 988.89L1662.19 988.77L1664.17 988.60L1666.15 988.26L1668.14 987.97L1670.13 987.38L1672.12 986.95L1674.11 986.53L1676.10 986.22L1678.09 986.07L1680.09 985.91L1682.08 985.79L1684.07 985.41L1686.07 984.98L1688.06 984.96L1690.05 984.89L1692.05 984.98L1694.04 984.81L1696.04 984.94L1698.04 985.10L1700.03 985.13L1702.03 985.03L1704.03 985.15L1706.03 985.33L1708.03 985.67L1710.03 985.59L1712.04 985.75L1714.04 985.91L1716.04 986.17L1718.04 986.14L1720.04 986.04L1722.04 986.01L1724.04 986.14L1726.04 986.31L1728.04 986.23L1730.04 985.98L1732.04 985.99L1734.03 986.17L1736.03 986.48L1738.02 986.52L1740.01 986.36L1742.01 986.04L1744.00 985.72L1745.99 985.34L1747.98 985.26L1749.97 984.89L1751.96 984.68L1753.95 984.31L1755.94 984.07L1757.93 983.66L1759.92 983.51L1761.91 983.17L1763.90 983.41L1765.89 983.59L1767.87 984.21L1769.86 984.37L1771.84 984.39L1773.83 984.22L1775.81 984.69L1777.80 984.93L1779.78 985.56L1781.77 985.42L1783.75 985.95L1785.73 986.30L1787.72 986.99L1789.70 987.37L1791.68 987.55L1793.66 987.76L1795.65 988.22L1797.63 988.67L1799.61 989.03L1801.60 989.17L1803.58 989.21L1805.56 989.50L1807.55 989.72L1809.53 989.77L1811.51 989.63L1813.50 989.46L1815.48 989.26L1817.47 989.20L1819.45 988.93L1821.43 988.61L1823.42 988.11L1825.40 987.76L1827.39 987.30L1829.37 986.95L1831.36 986.48L1833.34 986.43L1835.33 986.35L1837.31 986.32L1839.30 986.27L1841.28 986.17L1843.27 986.43L1845.26 986.92L1847.24 987.37L1849.23 987.67L1851.21 987.92L1853.20 988.42L1855.19 988.83L1857.17 989.08L1859.16 989.21L1861.15 989.57L1863.14 989.83L1865.13 990.01L1867.12 990.00L1869.11 990.02L1871.10 990.18L1873.09 989.92L1875.08 990.21L1877.07 990.04L1879.07 990.14L1881.06 989.98L1883.05 989.81L1885.05 989.98L1887.04 990.00L1889.03 990.08L1891.03 989.91L1893.02 989.86L1895.02 989.77L1897.01 989.73L1899.01 989.55L1901.01 989.70L1903.00 989.51L1905.00 989.33L1907.00 989.12L1909.00 988.70L1911.00 988.47L1913.00 987.91L1915.00 987.77L1917.00 987.78L1919.00 987.76L1921.00 987.86L1923.00 987.30L1925.00 986.94"/>
<path stroke="#b070e0" d="M178.50 1202.60L180.50 1202.38L182.49 1202.16L184.49 1201.95L186.49 1201.74L188.49 1201.54L190.48 1201.35L192.48 1201.17L194.48 1201.00L196.47 1200.83L198.47 1200.68L200.47 1200.53L202.47 1200.39L204.46 1200.27L206.46 1200.15L208.46 1200.04L210.46 1199.95L212.46 1199.86L214.45 1199.79L216.45 1199.73L218.45 1199.68L220.45 1199.64L222.45 1199.61L224.44 1199.60L226.44 1199.60L228.44 1199.62L230.44 1199.66L232.44 1199.72L234.44 1199.79L236.44 1199.87L238.43 1199.97L240.43 1200.07L242.43 1200.19L244.43 1200.32L246.43 1200.45L248.43 1200.59L250.43 1200.73L252.43 1200.88L254.43 1201.03L256.42 1201.18L258.42 1201.33L260.42 1201.47L262.42 1201.62L264.42 1201.75L266.42 1201.89L268.42 1202.01L270.42 1202.13L272.42 1202.24L274.42 1202.33L276.42 1202.42L278.42 1202.49L280.42 1202.54L282.42 1202.58L284.42 1202.60L286.42 1202.60L288.42 1202.59L290.42 1202.59L292.42 1202.57L294.43 1202.55L296.43 1202.53L298.43 1202.50L300.43 1202.47L302.43 1202.44L304.44 1202.40L306.44 1202.36L308.44 1202.32L310.44 1202.27L312.44 1202.22L314.45 1202.17L316.45 1202.12L318.45 1202.06L320.45 1202.01L322.45 1201.95L324.45 1201.89L326.45 1201.83L328.45 1201.77L330.45 1201.70L332.45 1201.63L334.45 1201.53L336.45 1201.41L338.44 1201.26L340.44 1201.11L342.44 1200.93L344.43 1200.75L346.43 1200.56L348.43 1200.36L350.42 1200.16L352.42 1199.96L354.42 1199.77L356.41 1199.58L358.41 1199.41L360.40 1199.24L362.40 1199.10L364.40 1198.97L366.39 1198.86L368.39 1198.78L370.38 1198.72L372.38 1198.70L374.38 1198.72L376.37 1198.81L378.37 1198.94L380.36 1199.12L382.36 1199.32L384.36 1199.54L386.35 1199.76L388.35 1199.97L390.34 1200.17L392.34 1200.33L394.34 1200.44L396.33 1200.50L398.33 1200.50L400.33 1200.49L402.33 1200.47L404.33 1200.45L406.33 1200.42L408.33 1200.38L410.33 1200.34L412.33 1200.29L414.33 1200.24L416.33 1200.18L418.33 1200.12L420.33 1200.05L422.34 1199.99L424.34 1199.92L426.34 1199.85L428.34 1199.77L430.34 1199.70L432.35 1199.62L434.35 1199.55L436.35 1199.47L438.35 1199.40L440.35 1199.33L442.36 1199.26L444.36 1199.19L446.36 1199.12L448.36 1199.06L450.36 1199.00L452.37 1198.94L454.37 1198.89L456.37 1198.85L458.37 1198.81L460.37 1198.77L462.37 1198.74L464.37 1198.72L466.37 1198.71L468.37 1198.70L470.37 1198.71L472.37 1198.75L474.37 1198.83L476.37 1198.93L478.37 1199.05L480.37 1199.19L482.37 1199.35L484.36 1199.51L486.36 1199.67L488.36 1199.83L490.36 1199.99L492.36 1200.13L494.36 1200.26L496.35 1200.36L498.35 1200.44L500.35 1200.49L502.35 1200.50L504.35 1200.50L506.35 1200.49L508.35 1200.48L510.35 1200.46L512.35 1200.44L514.35 1200.42L516.35 1200.39L518.35 1200.36L520.36 1200.32L522.36 1200.28L524.36 1200.24L526.36 1200.20L528.36 1200.16L530.36 1200.11L532.36 1200.06L534.36 1200.01L536.36 1199.96L538.37 1199.90L540.37 1199.85L542.37 1199.79L544.37 1199.73L546.37 1199.67L548.37 1199.62L550.38 1199.56L552.38 1199.50L554.38 1199.44L556.38 1199.38L558.38 1199.33L560.38 1199.27L562.39 1199.21L564.39 1199.16L566.39 1199.11L568.39 1199.06L570.39 1199.01L572.39 1198.96L574.40 1198.91L576.40 1198.87L578.40 1198.83L580.40 1198.79L582.40 1198.76L584.40 1198.73L586.41 1198.70L588.41 1198.68L590.41 1198.65L592.41 1198.62L594.41 1198.60L596.41 1198.57L598.41 1198.54L600.42 1198.52L602.42 1198.49L604.42 1198.47L606.42 1198.44L608.42 1198.42L610.42 1198.39L612.43 1198.37L614.43 1198.34L616.43 1198.32L618.43 1198.29L620.43 1198.27L622.43 1198.25L624.43 1198.23L626.44 1198.20L628.44 1198.18L630.44 1198.17L632.44 1198.15L634.44 1198.13L636.45 1198.11L638.45 1198.10L640.45 1198.08L642.45 1198.07L644.45 1198.05L646.45 1198.04L648.46 1198.03L650.46 1198.02L652.46 1198.02L654.46 1198.01L656.46 1198.01L658.46 1198.00L660.47 1198.00L662.47 1198.00L664.47 1198.00L666.47 1198.00L668.47 1198.00L670.48 1198.00L672.48 1198.01L674.49 1198.01L676.49 1198.01L678.49 1198.02L680.50 1198.02L682.50 1198.02L684.51 1198.03L686.52 1198.03L688.52 1198.04L690.53 1198.04L692.53 1198.05L694.54 1198.06L696.55 1198.06L698.55 1198.07L700.56 1198.08L702.57 1198.08L704.57 1198.09L706.58 1198.10L708.59 1198.10L710.59 1198.11L712.60 1198.12L714.60 1198.13L716.61 1198.13L718.62 1198.14L720.62 1198.15L722.63 1198.16L724.63 1198.16L726.64 1198.17L728.64 1198.18L730.64 1198.19L732.65 1198.19L734.65 1198.20L736.65 1198.21L738.66 1198.22L740.66 1198.22L742.66 1198.23L744.66 1198.24L746.66 1198.24L748.66 1198.25L750.66 1198.25L752.66 1198.26L754.66 1198.26L756.65 1198.27L758.65 1198.27L760.65 1198.28L762.64 1198.28L764.64 1198.29L766.63 1198.29L768.62 1198.29L770.62 1198.29L772.61 1198.30L774.60 1198.30L776.59 1198.30L778.58 1198.30L780.56 1198.30L782.55 1198.23L784.55 1198.08L786.54 1197.86L788.53 1197.58L790.52 1197.25L792.51 1196.88L794.48 1196.49L796.45 1196.07L798.41 1195.64L800.36 1195.22L802.29 1194.75L804.19 1194.15L806.08 1193.45L807.96 1192.70L809.84 1191.95L811.73 1191.26L813.64 1190.68L815.57 1190.25L817.52 1189.93L819.49 1189.64L821.48 1189.40L823.47 1189.17L825.47 1188.96L827.47 1188.75L829.47 1188.54L831.47 1188.30L833.45 1188.04L835.43 1187.70L837.42 1187.31L839.41 1186.90L841.39 1186.50L843.37 1186.14L845.34 1185.85L847.31 1185.66L849.27 1185.60L851.22 1185.76L853.16 1186.13L855.09 1186.65L857.03 1187.29L858.95 1187.97L860.88 1188.66L862.80 1189.29L864.72 1189.88L866.63 1190.57L868.54 1191.34L870.44 1192.13L872.34 1192.88L874.24 1193.56L876.16 1194.11L878.08 1194.47L880.02 1194.60L881.97 1194.45L883.93 1194.09L885.91 1193.62L887.89 1193.14L889.87 1192.76L891.86 1192.60L893.86 1192.61L895.87 1192.62L897.88 1192.65L899.89 1192.67L901.89 1192.69L903.87 1192.70L905.85 1192.56L907.81 1192.12L909.76 1191.51L911.66 1190.85L913.53 1190.16L915.38 1189.32L917.16 1188.35L918.80 1187.29L920.38 1186.06L921.88 1184.66L923.25 1183.15L924.42 1181.58L925.42 1179.88L926.32 1178.06L927.12 1176.20L927.85 1174.34L928.53 1172.45L929.15 1170.54L929.69 1168.61L930.17 1166.68L930.62 1164.73L931.03 1162.77L931.42 1160.80L931.77 1158.82L932.10 1156.85L932.40 1154.87L932.68 1152.89L932.95 1150.91L933.19 1148.92L933.43 1146.93L933.66 1144.94L933.88 1142.95L934.10 1140.96L934.32 1138.97L934.54 1136.98L934.75 1134.99L934.96 1133.00L935.16 1131.01L935.36 1129.02L935.55 1127.02L935.74 1125.03L935.93 1123.04L936.11 1121.04L936.30 1119.05L936.49 1117.06L936.68 1115.06L936.87 1113.07L937.04 1111.08L937.20 1109.08L937.34 1107.09L937.45 1105.09L937.53 1103.09L937.61 1101.09L937.68 1099.09L937.74 1097.09L937.81 1095.09L937.88 1093.08L937.97 1091.08L938.05 1089.09L938.14 1087.09L938.23 1085.09L938.32 1083.09L938.42 1081.09L938.52 1079.09L938.62 1077.09L938.72 1075.09L938.83 1073.09L938.94 1071.09L939.05 1069.09L939.17 1067.09L939.29 1065.10L939.41 1063.10L939.54 1061.10L939.67 1059.10L939.81 1057.10L939.96 1055.11L940.12 1053.11L940.28 1051.12L940.46 1049.13L940.65 1047.14L940.86 1045.14L941.09 1043.15L941.32 1041.17L941.57 1039.18L941.82 1037.19L942.08 1035.21L942.34 1033.22L942.60 1031.24L942.87 1029.25L943.15 1027.27L943.44 1025.29L943.74 1023.31L944.07 1021.34L944.42 1019.30L944.81 1016.76L945.24 1014.68L945.65 1014.36L946.07 1016.09L946.48 1018.64L946.84 1020.80L947.17 1022.77L947.48 1024.75L947.77 1026.73L948.06 1028.71L948.33 1030.70L948.59 1032.68L948.85 1034.66L949.11 1036.65L949.36 1038.64L949.61 1040.62L949.85 1042.61L950.08 1044.60L950.29 1046.59L950.49 1048.58L950.67 1050.58L950.84 1052.57L950.99 1054.56L951.13 1056.56L951.26 1058.56L951.39 1060.56L951.51 1062.55L951.63 1064.55L951.75 1066.55L951.88 1068.55L952.01 1070.55L952.15 1072.54L952.30 1074.54L952.46 1076.54L952.61 1078.53L952.78 1080.53L952.94 1082.52L953.10 1084.52L953.25 1086.51L953.40 1088.51L953.55 1090.51L953.69 1092.50L953.81 1094.50L953.93 1096.50L954.04 1098.50L954.15 1100.50L954.26 1102.49L954.38 1104.49L954.50 1106.49L954.63 1108.49L954.77 1110.48L954.92 1112.48L955.07 1114.48L955.23 1116.47L955.39 1118.47L955.57 1120.46L955.75 1122.46L955.93 1124.45L956.13 1126.44L956.34 1128.43L956.55 1130.42L956.78 1132.41L957.01 1134.40L957.25 1136.39L957.51 1138.38L957.77 1140.36L958.04 1142.34L958.32 1144.32L958.61 1146.30L958.91 1148.28L959.23 1150.26L959.57 1152.24L959.92 1154.21L960.29 1156.18L960.67 1158.14L961.08 1160.10L961.50 1162.06L961.95 1164.02L962.42 1165.98L962.93 1167.92L963.49 1169.84L964.10 1171.73L964.79 1173.59L965.61 1175.42L966.52 1177.22L967.51 1178.98L968.54 1180.68L969.64 1182.35L970.84 1183.99L972.11 1185.56L973.45 1187.04L974.86 1188.42L976.37 1189.75L977.97 1191.00L979.63 1192.15L981.33 1193.17L983.08 1194.09L984.90 1194.95L986.77 1195.73L988.66 1196.43L990.57 1197.03L992.48 1197.55L994.43 1198.01L996.40 1198.42L998.38 1198.78L1000.36 1199.09L1002.34 1199.38L1004.32 1199.68L1006.31 1199.96L1008.31 1200.22L1010.30 1200.45L1012.30 1200.63L1014.29 1200.75L1016.28 1200.80L1018.27 1200.71L1020.26 1200.45L1022.24 1200.10L1024.22 1199.73L1026.21 1199.44L1028.20 1199.30L1030.19 1199.34L1032.19 1199.47L1034.19 1199.64L1036.19 1199.82L1038.19 1199.95L1040.19 1200.00L1042.19 1199.94L1044.19 1199.82L1046.18 1199.68L1048.18 1199.56L1050.18 1199.50L1052.18 1199.47L1054.19 1199.45L1056.19 1199.43L1058.19 1199.42L1060.19 1199.40L1062.19 1199.39L1064.19 1199.38L1066.19 1199.37L1068.20 1199.36L1070.20 1199.35L1072.20 1199.34L1074.20 1199.34L1076.20 1199.33L1078.21 1199.32L1080.21 1199.32L1082.21 1199.31L1084.21 1199.30L1086.22 1199.30L1088.22 1199.29L1090.22 1199.28L1092.22 1199.26L1094.22 1199.25L1096.22 1199.24L1098.23 1199.22L1100.23 1199.20L1102.23 1199.17L1104.23 1199.13L1106.23 1199.08L1108.23 1199.01L1110.23 1198.94L1112.23 1198.87L1114.23 1198.78L1116.23 1198.69L1118.23 1198.60L1120.23 1198.50L1122.23 1198.40L1124.23 1198.30L1126.23 1198.20L1128.23 1198.09L1130.23 1198.00L1132.23 1197.90L1134.23 1197.81L1136.23 1197.72L1138.23 1197.64L1140.23 1197.57L1142.23 1197.51L1144.23 1197.46L1146.23 1197.41L1148.23 1197.38L1150.23 1197.35L1152.23 1197.32L1154.24 1197.29L1156.24 1197.25L1158.24 1197.22L1160.24 1197.19L1162.24 1197.16L1164.24 1197.14L1166.25 1197.11L1168.25 1197.08L1170.25 1197.05L1172.25 1197.03L1174.25 1197.00L1176.26 1196.97L1178.26 1196.95L1180.26 1196.93L1182.26 1196.90L1184.26 1196.88L1186.27 1196.86L1188.27 1196.84L1190.27 1196.82L1192.27 1196.80L1194.27 1196.78L1196.28 1196.76L1198.28 1196.74L1200.28 1196.73L1202.28 1196.71L1204.28 1196.70L1206.29 1196.68L1208.29 1196.67L1210.29 1196.66L1212.29 1196.65L1214.29 1196.64L1216.29 1196.63L1218.29 1196.62L1220.30 1196.62L1222.30 1196.61L1224.30 1196.61L1226.30 1196.60L1228.30 1196.60L1230.30 1196.60L1232.30 1196.60L1234.30 1196.62L1236.30 1196.66L1238.30 1196.70L1240.30 1196.76L1242.30 1196.83L1244.30 1196.90L1246.30 1196.99L1248.30 1197.09L1250.30 1197.19L1252.30 1197.30L1254.29 1197.42L1256.29 1197.54L1258.29 1197.66L1260.29 1197.79L1262.29 1197.92L1264.29 1198.05L1266.29 1198.18L1268.29 1198.32L1270.29 1198.45L1272.28 1198.58L1274.28 1198.70L1276.28 1198.83L1278.28 1198.94L1280.28 1199.06L1282.28 1199.16L1284.28 1199.27L1286.28 1199.37L1288.28 1199.48L1290.28 1199.59L1292.28 1199.71L1294.27 1199.83L1296.27 1199.95L1298.27 1200.07L1300.27 1200.19L1302.27 1200.32L1304.27 1200.45L1306.27 1200.57L1308.27 1200.70L1310.26 1200.82L1312.26 1200.95L1314.26 1201.07L1316.26 1201.19L1318.26 1201.31L1320.26 1201.43L1322.26 1201.54L1324.26 1201.66L1326.25 1201.76L1328.25 1201.87L1330.25 1201.96L1332.25 1202.06L1334.25 1202.14L1336.25 1202.23L1338.25 1202.30L1340.25 1202.37L1342.25 1202.43L1344.25 1202.49L1346.25 1202.53L1348.25 1202.57L1350.25 1202.60L1352.25 1202.63L1354.25 1202.66L1356.25 1202.68L1358.25 1202.71L1360.26 1202.73L1362.26 1202.75L1364.26 1202.78L1366.26 1202.80L1368.26 1202.82L1370.26 1202.84L1372.27 1202.86L1374.27 1202.88L1376.27 1202.89L1378.27 1202.91L1380.27 1202.93L1382.28 1202.94L1384.28 1202.95L1386.28 1202.96L1388.28 1202.97L1390.28 1202.98L1392.29 1202.99L1394.29 1202.99L1396.29 1203.00L1398.29 1203.00L1400.29 1203.00L1402.29 1202.99L1404.30 1202.98L1406.30 1202.95L1408.30 1202.92L1410.30 1202.88L1412.30 1202.84L1414.30 1202.80L1416.30 1202.75L1418.30 1202.69L1420.31 1202.64L1422.31 1202.59L1424.31 1202.54L1426.31 1202.49L1428.31 1202.44L1430.31 1202.40L1432.31 1202.37L1434.32 1202.34L1436.32 1202.32L1438.32 1202.30L1440.32 1202.30L1442.32 1202.30L1444.33 1202.30L1446.33 1202.30L1448.34 1202.30L1450.34 1202.30L1452.34 1202.30L1454.34 1202.30L1456.33 1202.30L1458.33 1202.21L1460.33 1202.01L1462.32 1201.73L1464.30 1201.40L1466.27 1201.04L1468.22 1200.64L1470.18 1200.12L1472.10 1199.51L1473.97 1198.81L1475.77 1198.02L1477.52 1197.05L1479.22 1195.95L1480.88 1194.79L1482.48 1193.62L1484.04 1192.36L1485.55 1191.04L1487.04 1189.68L1488.50 1188.32L1489.94 1186.93L1491.35 1185.51L1492.75 1184.08L1494.16 1182.65L1495.56 1181.22L1496.95 1179.77L1498.35 1178.33L1499.77 1176.92L1501.25 1175.59L1502.79 1174.32L1504.37 1173.09L1505.99 1171.90L1507.62 1170.74L1509.26 1169.54L1510.92 1168.40L1512.69 1167.54L1514.61 1166.80L1516.54 1166.51L1518.51 1167.08L1520.26 1168.07L1521.63 1169.35L1522.81 1171.04L1523.92 1172.82L1525.03 1174.49L1526.09 1176.19L1527.14 1177.90L1528.18 1179.61L1529.23 1181.31L1530.28 1183.02L1531.34 1184.72L1532.43 1186.39L1533.53 1188.08L1534.67 1189.75L1535.88 1191.33L1537.23 1192.77L1538.71 1194.14L1540.29 1195.41L1541.93 1196.55L1543.63 1197.60L1545.41 1198.57L1547.25 1199.40L1549.12 1200.02L1551.04 1200.60L1553.01 1201.10L1555.00 1201.42L1556.99 1201.50L1558.98 1201.50L1560.98 1201.50L1562.99 1201.50L1565.00 1201.50L1567.00 1201.50L1569.00 1201.51L1570.99 1201.68L1572.97 1202.00L1574.95 1202.39L1576.93 1202.76L1578.92 1203.02L1580.90 1203.10L1582.89 1203.00L1584.88 1202.81L1586.87 1202.55L1588.87 1202.28L1590.86 1202.04L1592.86 1201.88L1594.85 1201.73L1596.85 1201.60L1598.85 1201.52L1600.85 1201.51L1602.85 1201.61L1604.85 1201.76L1606.84 1201.94L1608.84 1202.10L1610.84 1202.20L1612.84 1202.24L1614.84 1202.27L1616.84 1202.31L1618.84 1202.34L1620.84 1202.37L1622.84 1202.40L1624.85 1202.43L1626.85 1202.45L1628.85 1202.48L1630.85 1202.50L1632.86 1202.52L1634.86 1202.54L1636.86 1202.55L1638.86 1202.56L1640.87 1202.57L1642.87 1202.58L1644.87 1202.59L1646.87 1202.60L1648.87 1202.60L1650.87 1202.60L1652.87 1202.59L1654.87 1202.56L1656.87 1202.50L1658.87 1202.43L1660.87 1202.34L1662.86 1202.24L1664.86 1202.12L1666.86 1201.99L1668.86 1201.84L1670.86 1201.69L1672.85 1201.54L1674.85 1201.37L1676.85 1201.21L1678.84 1201.04L1680.84 1200.88L1682.84 1200.71L1684.84 1200.55L1686.83 1200.40L1688.83 1200.25L1690.83 1200.11L1692.83 1199.98L1694.83 1199.87L1696.83 1199.76L1698.83 1199.68L1700.82 1199.61L1702.82 1199.56L1704.82 1199.50L1706.82 1199.45L1708.82 1199.39L1710.83 1199.34L1712.83 1199.29L1714.83 1199.24L1716.83 1199.19L1718.83 1199.14L1720.83 1199.09L1722.83 1199.05L1724.83 1199.00L1726.83 1198.96L1728.84 1198.92L1730.84 1198.88L1732.84 1198.84L1734.84 1198.80L1736.84 1198.76L1738.85 1198.73L1740.85 1198.70L1742.85 1198.67L1744.85 1198.64L1746.85 1198.62L1748.86 1198.59L1750.86 1198.57L1752.86 1198.55L1754.86 1198.54L1756.86 1198.52L1758.86 1198.51L1760.87 1198.51L1762.87 1198.50L1764.87 1198.50L1766.87 1198.50L1768.87 1198.51L1770.87 1198.51L1772.88 1198.53L1774.88 1198.54L1776.88 1198.56L1778.88 1198.57L1780.88 1198.60L1782.88 1198.62L1784.88 1198.64L1786.89 1198.67L1788.89 1198.70L1790.89 1198.73L1792.89 1198.76L1794.89 1198.79L1796.89 1198.82L1798.90 1198.86L1800.90 1198.89L1802.90 1198.92L1804.90 1198.95L1806.90 1198.99L1808.90 1199.02L1810.90 1199.05L1812.91 1199.08L1814.91 1199.11L1816.91 1199.14L1818.91 1199.17L1820.91 1199.20L1822.91 1199.22L1824.92 1199.25L1826.92 1199.27L1828.92 1199.29L1830.92 1199.30L1832.92 1199.32L1834.92 1199.33L1836.93 1199.35L1838.93 1199.36L1840.93 1199.38L1842.93 1199.39L1844.93 1199.41L1846.93 1199.42L1848.94 1199.44L1850.94 1199.45L1852.94 1199.46L1854.94 1199.48L1856.94 1199.49L1858.94 1199.51L1860.95 1199.52L1862.95 1199.53L1864.95 1199.55L1866.95 1199.56L1868.95 1199.57L1870.95 1199.58L1872.96 1199.60L1874.96 1199.61L1876.96 1199.62L1878.96 1199.63L1880.96 1199.64L1882.96 1199.65L1884.97 1199.66L1886.97 1199.67L1888.97 1199.68L1890.97 1199.69L1892.97 1199.70L1894.97 1199.71L1896.98 1199.72L1898.98 1199.73L1900.98 1199.74L1902.98 1199.74L1904.98 1199.75L1906.98 1199.76L1908.99 1199.76L1910.99 1199.77L1912.99 1199.78L1914.99 1199.78L1916.99 1199.79L1918.99 1199.79L1921.00 1199.79L1923.00 1199.80L1925.00 1199.80"/>
</g>
<text class="tk" transform="translate(151.80 1392.00) scale(0.9750 1.0150)">0</text>
<text class="tk" transform="translate(404.46 1392.00) scale(0.9750 1.0150)">500</text>
<text class="tk" transform="translate(657.11 1392.00) scale(0.9750 1.0150)">1000</text>
<text class="tk" transform="translate(909.76 1392.00) scale(0.9750 1.0150)">1500</text>
<text class="tk" transform="translate(1162.42 1392.00) scale(0.9750 1.0150)">2000</text>
<text class="tk" transform="translate(1415.08 1392.00) scale(0.9750 1.0150)">2500</text>
<text class="tk" transform="translate(1667.73 1392.00) scale(0.9750 1.0150)">3000</text>
<text class="tk" transform="translate(1920.38 1392.00) scale(0.9750 1.0150)">3500</text>
<text class="ax al" transform="translate(753.00 1503.20) scale(1.0000 1.0450)">Raman shift (cm</text>
<text class="ax al" transform="translate(1244.00 1474.60) scale(1.0000 1.0450)" style="font-size:45px">−1</text>
<text class="ax al" transform="translate(1299.30 1503.20) scale(1.0000 1.0450)">)</text>
<text class="ax" transform="translate(69.00 668.30) rotate(-90) scale(1.0000 1.0450)">Intensity (a.u.)</text>
<text class="bd" transform="translate(924.20 87.50) scale(1.0000 1.0000)" style="font-size:68px">G</text>
<text class="bd" transform="translate(827.40 255.60) scale(1.0000 1.0250)" style="font-size:66px">D</text>
<text class="bd" transform="translate(1488.50 205.90) scale(1.0000 1.0000)" style="font-size:66.7px">2D</text>
<text class="pk" transform="translate(984.40 202.20) scale(1.0000 1.0150)">1581.1</text>
<text class="pk" transform="translate(772.40 348.70) scale(1.0000 1.0150)">1358.1</text>
<text class="pk" transform="translate(1464.20 276.70) scale(1.0000 1.0150)">2715.9</text>
<text class="pk" transform="translate(990.40 450.70) scale(1.0000 1.0150)">1579.3</text>
<text class="pk" transform="translate(1464.20 498.20) scale(1.0000 1.0150)">2711.4</text>
<text class="pk" transform="translate(989.40 647.70) scale(1.0000 1.0150)">1580.1</text>
<text class="pk" transform="translate(754.40 738.20) scale(1.0000 1.0150)">1346.1</text>
<text class="pk" transform="translate(1462.20 697.20) scale(1.0000 1.0150)">2711.4</text>
<text class="pk" transform="translate(994.40 891.70) scale(1.0000 1.0150)">1574.6</text>
<text class="pk" transform="translate(745.40 938.70) scale(1.0000 1.0150)">1337.5</text>
<text class="pk" transform="translate(994.40 1048.70) scale(1.0000 1.0150)">1571.2</text>
<text class="pk" transform="translate(1454.20 1120.70) scale(1.0000 1.0150)">2700.1</text>
</svg></body></html>
